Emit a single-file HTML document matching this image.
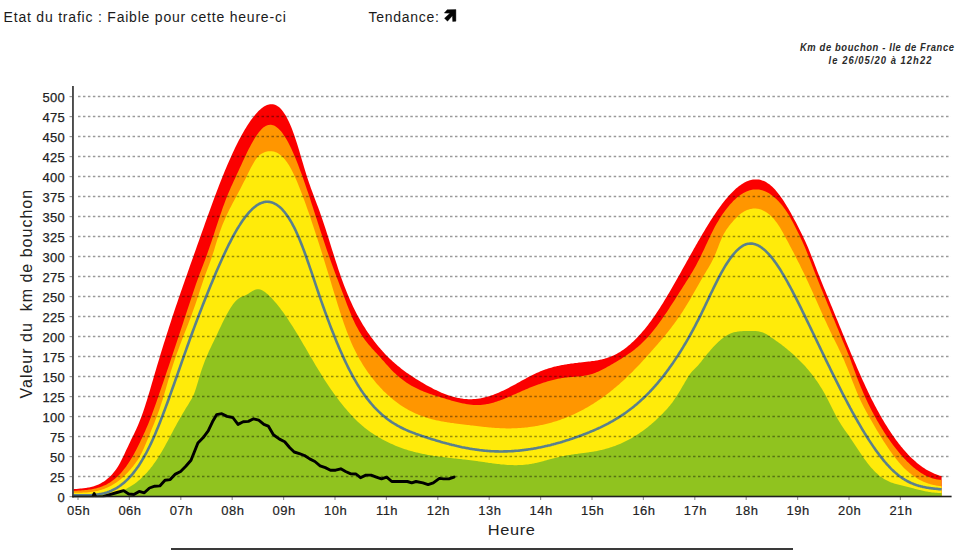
<!DOCTYPE html>
<html><head><meta charset="utf-8"><title>Etat du trafic</title>
<style>
html,body{margin:0;padding:0;background:#fff;}
body{width:977px;height:550px;overflow:hidden;position:relative;font-family:"Liberation Sans",sans-serif;}
svg{position:absolute;left:0;top:0;}
svg text{font-family:"Liberation Sans",sans-serif;}
.hd{font-size:14px;fill:#1a1a1a;letter-spacing:0.79px;}
.hd2{font-size:14px;fill:#1a1a1a;letter-spacing:0.7px;}
.yl text{font-size:13px;text-anchor:end;fill:#222;stroke:#222;stroke-width:0.25px;letter-spacing:0.35px;}
.xl text{font-size:13px;text-anchor:middle;fill:#222;stroke:#222;stroke-width:0.18px;letter-spacing:0.5px;}
.ax{font-size:15.3px;fill:#222;letter-spacing:0.6px;}
.ay{font-size:16px;fill:#222;letter-spacing:1px;}
.ti{font-size:9.4px;font-style:italic;font-weight:bold;fill:#2a2a2a;text-anchor:middle;letter-spacing:0.62px;}
</style></head><body>
<svg width="977" height="550" viewBox="0 0 977 550">
<rect width="977" height="550" fill="#fff"/>
<text class="hd" x="3.6" y="21.5">Etat du trafic : Faible pour cette heure-ci</text>
<text class="hd2" x="368.6" y="21.5">Tendance:</text>
<path d="M444.3,13.0 L447.2,9.7 L455.9,9.6 L455.9,21.2 L452.7,21.5 L452.4,15.7 L447.5,21.2 L444.5,18.3 L449.9,13.2 Z" fill="#050505" stroke="#050505" stroke-width="0.4" stroke-linejoin="round"/>
<g class="ti"><text transform="translate(877.3,51.4) scale(1,1.17)">Km de bouchon - Ile de France</text><text transform="translate(880.5,63.5) scale(1,1.17)" style="letter-spacing:1.04px">le 26/05/20 à 12h22</text></g>
<defs><clipPath id="cp"><rect x="73" y="80" width="880" height="417.3"/></clipPath></defs>
<g id="areas">
<path fill="#fb0000" d="M73.0,489.2 L74.0,489.1 L75.0,489.0 L76.0,489.0 L77.0,488.9 L78.0,488.8 L79.0,488.7 L80.0,488.6 L81.0,488.5 L82.0,488.4 L83.0,488.3 L84.0,488.2 L85.0,488.1 L86.0,488.0 L87.0,487.8 L88.0,487.6 L89.0,487.4 L90.0,487.2 L91.0,487.0 L92.0,486.8 L93.0,486.5 L94.0,486.2 L95.0,485.8 L96.0,485.5 L97.0,485.1 L98.0,484.7 L99.0,484.2 L100.0,483.7 L101.0,483.2 L102.0,482.6 L103.0,482.0 L104.0,481.4 L105.0,480.7 L106.0,479.9 L107.0,479.1 L108.0,478.3 L109.0,477.4 L110.0,476.5 L111.0,475.5 L112.0,474.4 L113.0,473.3 L114.0,472.1 L115.0,470.8 L116.0,469.4 L117.0,468.0 L118.0,466.4 L119.0,464.7 L120.0,462.9 L121.0,461.0 L122.0,459.0 L123.0,457.0 L124.0,454.9 L125.0,452.8 L126.0,450.6 L127.0,448.5 L128.0,446.4 L129.0,444.3 L130.0,442.2 L131.0,440.1 L132.0,438.1 L133.0,436.0 L134.0,434.0 L135.0,431.8 L136.0,429.7 L137.0,427.5 L138.0,425.2 L139.0,422.8 L140.0,420.3 L141.0,417.7 L142.0,415.0 L143.0,412.2 L144.0,409.3 L145.0,406.2 L146.0,403.1 L147.0,399.9 L148.0,396.6 L149.0,393.3 L150.0,389.9 L151.0,386.5 L152.0,383.1 L153.0,379.7 L154.0,376.2 L155.0,372.8 L156.0,369.4 L157.0,366.1 L158.0,362.7 L159.0,359.4 L160.0,356.1 L161.0,352.8 L162.0,349.5 L163.0,346.3 L164.0,343.1 L165.0,339.9 L166.0,336.7 L167.0,333.6 L168.0,330.4 L169.0,327.3 L170.0,324.2 L171.0,321.2 L172.0,318.1 L173.0,315.1 L174.0,312.1 L175.0,309.1 L176.0,306.1 L177.0,303.2 L178.0,300.3 L179.0,297.3 L180.0,294.4 L181.0,291.5 L182.0,288.7 L183.0,285.8 L184.0,282.9 L185.0,280.1 L186.0,277.2 L187.0,274.4 L188.0,271.5 L189.0,268.7 L190.0,265.8 L191.0,263.0 L192.0,260.2 L193.0,257.4 L194.0,254.5 L195.0,251.7 L196.0,248.9 L197.0,246.1 L198.0,243.3 L199.0,240.5 L200.0,237.6 L201.0,234.8 L202.0,232.0 L203.0,229.2 L204.0,226.4 L205.0,223.6 L206.0,220.8 L207.0,218.0 L208.0,215.2 L209.0,212.5 L210.0,209.7 L211.0,207.0 L212.0,204.2 L213.0,201.5 L214.0,198.8 L215.0,196.1 L216.0,193.5 L217.0,190.8 L218.0,188.2 L219.0,185.6 L220.0,183.0 L221.0,180.5 L222.0,178.0 L223.0,175.5 L224.0,173.0 L225.0,170.6 L226.0,168.2 L227.0,165.8 L228.0,163.5 L229.0,161.2 L230.0,158.9 L231.0,156.7 L232.0,154.5 L233.0,152.3 L234.0,150.2 L235.0,148.1 L236.0,146.0 L237.0,144.0 L238.0,142.0 L239.0,140.1 L240.0,138.2 L241.0,136.3 L242.0,134.5 L243.0,132.8 L244.0,131.0 L245.0,129.3 L246.0,127.7 L247.0,126.1 L248.0,124.5 L249.0,123.0 L250.0,121.5 L251.0,120.1 L252.0,118.8 L253.0,117.4 L254.0,116.2 L255.0,114.9 L256.0,113.8 L257.0,112.7 L258.0,111.6 L259.0,110.6 L260.0,109.7 L261.0,108.8 L262.0,108.0 L263.0,107.3 L264.0,106.6 L265.0,106.0 L266.0,105.5 L267.0,105.1 L268.0,104.7 L269.0,104.5 L270.0,104.3 L271.0,104.2 L272.0,104.2 L273.0,104.3 L274.0,104.5 L275.0,104.8 L276.0,105.2 L277.0,105.7 L278.0,106.4 L279.0,107.1 L280.0,108.0 L281.0,109.0 L282.0,110.2 L283.0,111.5 L284.0,112.9 L285.0,114.4 L286.0,116.1 L287.0,117.9 L288.0,119.9 L289.0,122.0 L290.0,124.2 L291.0,126.6 L292.0,129.1 L293.0,131.7 L294.0,134.5 L295.0,137.4 L296.0,140.4 L297.0,143.6 L298.0,146.8 L299.0,150.1 L300.0,153.5 L301.0,156.8 L302.0,160.2 L303.0,163.6 L304.0,167.0 L305.0,170.3 L306.0,173.5 L307.0,176.7 L308.0,179.7 L309.0,182.7 L310.0,185.6 L311.0,188.4 L312.0,191.1 L313.0,193.8 L314.0,196.5 L315.0,199.2 L316.0,201.8 L317.0,204.5 L318.0,207.1 L319.0,209.8 L320.0,212.6 L321.0,215.4 L322.0,218.3 L323.0,221.2 L324.0,224.2 L325.0,227.2 L326.0,230.3 L327.0,233.4 L328.0,236.6 L329.0,239.8 L330.0,243.0 L331.0,246.2 L332.0,249.4 L333.0,252.5 L334.0,255.7 L335.0,258.9 L336.0,262.0 L337.0,265.1 L338.0,268.2 L339.0,271.2 L340.0,274.1 L341.0,277.0 L342.0,279.8 L343.0,282.5 L344.0,285.2 L345.0,287.8 L346.0,290.3 L347.0,292.8 L348.0,295.2 L349.0,297.6 L350.0,299.9 L351.0,302.1 L352.0,304.3 L353.0,306.4 L354.0,308.5 L355.0,310.5 L356.0,312.5 L357.0,314.4 L358.0,316.2 L359.0,318.1 L360.0,319.8 L361.0,321.6 L362.0,323.3 L363.0,324.9 L364.0,326.6 L365.0,328.1 L366.0,329.7 L367.0,331.2 L368.0,332.7 L369.0,334.1 L370.0,335.5 L371.0,336.9 L372.0,338.3 L373.0,339.6 L374.0,341.0 L375.0,342.3 L376.0,343.5 L377.0,344.8 L378.0,346.0 L379.0,347.2 L380.0,348.3 L381.0,349.5 L382.0,350.6 L383.0,351.7 L384.0,352.8 L385.0,353.9 L386.0,354.9 L387.0,355.9 L388.0,356.9 L389.0,357.9 L390.0,358.9 L391.0,359.8 L392.0,360.8 L393.0,361.7 L394.0,362.6 L395.0,363.4 L396.0,364.3 L397.0,365.2 L398.0,366.0 L399.0,366.8 L400.0,367.6 L401.0,368.4 L402.0,369.2 L403.0,369.9 L404.0,370.7 L405.0,371.4 L406.0,372.2 L407.0,372.9 L408.0,373.6 L409.0,374.3 L410.0,375.0 L411.0,375.6 L412.0,376.3 L413.0,377.0 L414.0,377.6 L415.0,378.2 L416.0,378.9 L417.0,379.5 L418.0,380.1 L419.0,380.7 L420.0,381.3 L421.0,382.0 L422.0,382.5 L423.0,383.1 L424.0,383.7 L425.0,384.3 L426.0,384.9 L427.0,385.4 L428.0,386.0 L429.0,386.5 L430.0,387.1 L431.0,387.6 L432.0,388.1 L433.0,388.7 L434.0,389.2 L435.0,389.7 L436.0,390.1 L437.0,390.6 L438.0,391.1 L439.0,391.6 L440.0,392.0 L441.0,392.4 L442.0,392.9 L443.0,393.3 L444.0,393.7 L445.0,394.1 L446.0,394.4 L447.0,394.8 L448.0,395.2 L449.0,395.5 L450.0,395.8 L451.0,396.1 L452.0,396.4 L453.0,396.7 L454.0,397.0 L455.0,397.3 L456.0,397.5 L457.0,397.7 L458.0,397.9 L459.0,398.1 L460.0,398.3 L461.0,398.5 L462.0,398.6 L463.0,398.8 L464.0,398.9 L465.0,399.0 L466.0,399.1 L467.0,399.1 L468.0,399.2 L469.0,399.2 L470.0,399.2 L471.0,399.2 L472.0,399.2 L473.0,399.1 L474.0,399.1 L475.0,399.0 L476.0,398.9 L477.0,398.8 L478.0,398.7 L479.0,398.5 L480.0,398.4 L481.0,398.2 L482.0,398.0 L483.0,397.8 L484.0,397.6 L485.0,397.3 L486.0,397.1 L487.0,396.8 L488.0,396.5 L489.0,396.2 L490.0,395.9 L491.0,395.6 L492.0,395.2 L493.0,394.9 L494.0,394.5 L495.0,394.1 L496.0,393.7 L497.0,393.3 L498.0,392.9 L499.0,392.5 L500.0,392.1 L501.0,391.6 L502.0,391.1 L503.0,390.7 L504.0,390.2 L505.0,389.7 L506.0,389.2 L507.0,388.7 L508.0,388.2 L509.0,387.7 L510.0,387.1 L511.0,386.6 L512.0,386.1 L513.0,385.5 L514.0,385.0 L515.0,384.4 L516.0,383.9 L517.0,383.3 L518.0,382.8 L519.0,382.2 L520.0,381.7 L521.0,381.1 L522.0,380.6 L523.0,380.0 L524.0,379.5 L525.0,378.9 L526.0,378.4 L527.0,377.8 L528.0,377.3 L529.0,376.8 L530.0,376.3 L531.0,375.8 L532.0,375.3 L533.0,374.8 L534.0,374.3 L535.0,373.8 L536.0,373.3 L537.0,372.8 L538.0,372.4 L539.0,372.0 L540.0,371.5 L541.0,371.1 L542.0,370.7 L543.0,370.3 L544.0,369.9 L545.0,369.6 L546.0,369.2 L547.0,368.9 L548.0,368.6 L549.0,368.3 L550.0,368.0 L551.0,367.7 L552.0,367.4 L553.0,367.1 L554.0,366.8 L555.0,366.6 L556.0,366.4 L557.0,366.1 L558.0,365.9 L559.0,365.7 L560.0,365.5 L561.0,365.3 L562.0,365.1 L563.0,364.9 L564.0,364.7 L565.0,364.5 L566.0,364.4 L567.0,364.2 L568.0,364.1 L569.0,363.9 L570.0,363.8 L571.0,363.6 L572.0,363.5 L573.0,363.4 L574.0,363.2 L575.0,363.1 L576.0,363.0 L577.0,362.9 L578.0,362.7 L579.0,362.6 L580.0,362.5 L581.0,362.4 L582.0,362.3 L583.0,362.2 L584.0,362.1 L585.0,362.0 L586.0,361.8 L587.0,361.7 L588.0,361.6 L589.0,361.5 L590.0,361.4 L591.0,361.3 L592.0,361.1 L593.0,361.0 L594.0,360.9 L595.0,360.7 L596.0,360.6 L597.0,360.4 L598.0,360.2 L599.0,360.0 L600.0,359.8 L601.0,359.6 L602.0,359.4 L603.0,359.1 L604.0,358.9 L605.0,358.6 L606.0,358.3 L607.0,358.0 L608.0,357.6 L609.0,357.3 L610.0,356.9 L611.0,356.5 L612.0,356.1 L613.0,355.7 L614.0,355.2 L615.0,354.7 L616.0,354.2 L617.0,353.7 L618.0,353.1 L619.0,352.5 L620.0,351.9 L621.0,351.3 L622.0,350.6 L623.0,349.9 L624.0,349.2 L625.0,348.5 L626.0,347.7 L627.0,346.9 L628.0,346.1 L629.0,345.3 L630.0,344.4 L631.0,343.5 L632.0,342.6 L633.0,341.7 L634.0,340.8 L635.0,339.8 L636.0,338.8 L637.0,337.8 L638.0,336.7 L639.0,335.6 L640.0,334.5 L641.0,333.4 L642.0,332.3 L643.0,331.1 L644.0,329.9 L645.0,328.7 L646.0,327.5 L647.0,326.2 L648.0,324.9 L649.0,323.6 L650.0,322.3 L651.0,320.9 L652.0,319.5 L653.0,318.1 L654.0,316.7 L655.0,315.2 L656.0,313.8 L657.0,312.3 L658.0,310.8 L659.0,309.2 L660.0,307.7 L661.0,306.1 L662.0,304.5 L663.0,302.9 L664.0,301.3 L665.0,299.6 L666.0,298.0 L667.0,296.3 L668.0,294.6 L669.0,292.9 L670.0,291.2 L671.0,289.5 L672.0,287.8 L673.0,286.1 L674.0,284.3 L675.0,282.6 L676.0,280.8 L677.0,279.0 L678.0,277.3 L679.0,275.5 L680.0,273.7 L681.0,271.9 L682.0,270.1 L683.0,268.3 L684.0,266.5 L685.0,264.7 L686.0,262.9 L687.0,261.1 L688.0,259.4 L689.0,257.6 L690.0,255.8 L691.0,254.0 L692.0,252.2 L693.0,250.4 L694.0,248.6 L695.0,246.9 L696.0,245.1 L697.0,243.4 L698.0,241.6 L699.0,239.9 L700.0,238.2 L701.0,236.4 L702.0,234.7 L703.0,233.0 L704.0,231.4 L705.0,229.7 L706.0,228.1 L707.0,226.4 L708.0,224.8 L709.0,223.2 L710.0,221.6 L711.0,220.0 L712.0,218.5 L713.0,216.9 L714.0,215.4 L715.0,213.9 L716.0,212.5 L717.0,211.0 L718.0,209.6 L719.0,208.2 L720.0,206.8 L721.0,205.4 L722.0,204.1 L723.0,202.8 L724.0,201.5 L725.0,200.3 L726.0,199.1 L727.0,197.9 L728.0,196.7 L729.0,195.6 L730.0,194.5 L731.0,193.4 L732.0,192.4 L733.0,191.4 L734.0,190.4 L735.0,189.5 L736.0,188.6 L737.0,187.7 L738.0,186.9 L739.0,186.1 L740.0,185.4 L741.0,184.7 L742.0,184.0 L743.0,183.4 L744.0,182.8 L745.0,182.3 L746.0,181.8 L747.0,181.3 L748.0,180.9 L749.0,180.6 L750.0,180.3 L751.0,180.0 L752.0,179.8 L753.0,179.6 L754.0,179.5 L755.0,179.4 L756.0,179.4 L757.0,179.4 L758.0,179.5 L759.0,179.6 L760.0,179.8 L761.0,180.1 L762.0,180.4 L763.0,180.7 L764.0,181.1 L765.0,181.6 L766.0,182.1 L767.0,182.7 L768.0,183.4 L769.0,184.1 L770.0,184.8 L771.0,185.7 L772.0,186.6 L773.0,187.5 L774.0,188.5 L775.0,189.6 L776.0,190.7 L777.0,191.9 L778.0,193.2 L779.0,194.4 L780.0,195.8 L781.0,197.2 L782.0,198.6 L783.0,200.1 L784.0,201.6 L785.0,203.2 L786.0,204.8 L787.0,206.4 L788.0,208.1 L789.0,209.8 L790.0,211.6 L791.0,213.3 L792.0,215.2 L793.0,217.0 L794.0,218.9 L795.0,220.7 L796.0,222.6 L797.0,224.6 L798.0,226.5 L799.0,228.5 L800.0,230.5 L801.0,232.5 L802.0,234.5 L803.0,236.6 L804.0,238.7 L805.0,240.8 L806.0,243.0 L807.0,245.3 L808.0,247.6 L809.0,250.0 L810.0,252.5 L811.0,255.0 L812.0,257.5 L813.0,260.1 L814.0,262.6 L815.0,265.2 L816.0,267.8 L817.0,270.4 L818.0,272.9 L819.0,275.5 L820.0,278.0 L821.0,280.5 L822.0,283.0 L823.0,285.5 L824.0,287.9 L825.0,290.3 L826.0,292.7 L827.0,295.2 L828.0,297.6 L829.0,300.0 L830.0,302.4 L831.0,304.9 L832.0,307.3 L833.0,309.8 L834.0,312.3 L835.0,314.7 L836.0,317.2 L837.0,319.6 L838.0,322.1 L839.0,324.5 L840.0,326.9 L841.0,329.3 L842.0,331.8 L843.0,334.2 L844.0,336.6 L845.0,339.0 L846.0,341.4 L847.0,343.8 L848.0,346.2 L849.0,348.6 L850.0,351.0 L851.0,353.4 L852.0,355.7 L853.0,358.1 L854.0,360.4 L855.0,362.8 L856.0,365.1 L857.0,367.4 L858.0,369.7 L859.0,372.0 L860.0,374.3 L861.0,376.5 L862.0,378.7 L863.0,381.0 L864.0,383.1 L865.0,385.3 L866.0,387.5 L867.0,389.6 L868.0,391.7 L869.0,393.8 L870.0,395.8 L871.0,397.9 L872.0,399.9 L873.0,401.8 L874.0,403.8 L875.0,405.7 L876.0,407.6 L877.0,409.4 L878.0,411.3 L879.0,413.1 L880.0,414.9 L881.0,416.6 L882.0,418.4 L883.0,420.1 L884.0,421.8 L885.0,423.4 L886.0,425.0 L887.0,426.6 L888.0,428.2 L889.0,429.8 L890.0,431.3 L891.0,432.8 L892.0,434.3 L893.0,435.7 L894.0,437.1 L895.0,438.5 L896.0,439.9 L897.0,441.2 L898.0,442.6 L899.0,443.9 L900.0,445.1 L901.0,446.4 L902.0,447.6 L903.0,448.8 L904.0,449.9 L905.0,451.1 L906.0,452.2 L907.0,453.3 L908.0,454.4 L909.0,455.4 L910.0,456.4 L911.0,457.4 L912.0,458.4 L913.0,459.3 L914.0,460.2 L915.0,461.1 L916.0,462.0 L917.0,462.9 L918.0,463.7 L919.0,464.5 L920.0,465.2 L921.0,466.0 L922.0,466.7 L923.0,467.4 L924.0,468.1 L925.0,468.7 L926.0,469.4 L927.0,470.0 L928.0,470.5 L929.0,471.1 L930.0,471.6 L931.0,472.1 L932.0,472.6 L933.0,473.1 L934.0,473.5 L935.0,473.9 L936.0,474.3 L937.0,474.7 L938.0,475.0 L939.0,475.4 L940.0,475.7 L941.6,476.1 L941.6,496.6 L73.0,496.6 Z"/>
<path fill="#ff9600" d="M73.0,490.9 L74.0,490.9 L75.0,490.8 L76.0,490.7 L77.0,490.7 L78.0,490.6 L79.0,490.5 L80.0,490.5 L81.0,490.4 L82.0,490.3 L83.0,490.3 L84.0,490.2 L85.0,490.1 L86.0,490.0 L87.0,489.9 L88.0,489.8 L89.0,489.6 L90.0,489.5 L91.0,489.4 L92.0,489.2 L93.0,489.0 L94.0,488.8 L95.0,488.6 L96.0,488.4 L97.0,488.1 L98.0,487.8 L99.0,487.5 L100.0,487.2 L101.0,486.8 L102.0,486.5 L103.0,486.1 L104.0,485.6 L105.0,485.2 L106.0,484.7 L107.0,484.2 L108.0,483.6 L109.0,483.0 L110.0,482.4 L111.0,481.7 L112.0,481.0 L113.0,480.3 L114.0,479.5 L115.0,478.7 L116.0,477.8 L117.0,476.9 L118.0,476.0 L119.0,475.0 L120.0,474.0 L121.0,472.9 L122.0,471.7 L123.0,470.5 L124.0,469.3 L125.0,468.0 L126.0,466.7 L127.0,465.3 L128.0,463.8 L129.0,462.3 L130.0,460.8 L131.0,459.1 L132.0,457.5 L133.0,455.7 L134.0,453.9 L135.0,452.1 L136.0,450.2 L137.0,448.3 L138.0,446.3 L139.0,444.3 L140.0,442.2 L141.0,440.1 L142.0,438.0 L143.0,435.8 L144.0,433.6 L145.0,431.4 L146.0,429.1 L147.0,426.8 L148.0,424.4 L149.0,422.0 L150.0,419.5 L151.0,416.9 L152.0,414.3 L153.0,411.6 L154.0,408.8 L155.0,406.0 L156.0,403.2 L157.0,400.3 L158.0,397.4 L159.0,394.5 L160.0,391.6 L161.0,388.7 L162.0,385.8 L163.0,382.9 L164.0,380.0 L165.0,377.0 L166.0,374.1 L167.0,371.1 L168.0,368.2 L169.0,365.2 L170.0,362.2 L171.0,359.2 L172.0,356.2 L173.0,353.2 L174.0,350.3 L175.0,347.3 L176.0,344.3 L177.0,341.2 L178.0,338.2 L179.0,335.2 L180.0,332.2 L181.0,329.2 L182.0,326.2 L183.0,323.2 L184.0,320.1 L185.0,317.1 L186.0,314.1 L187.0,311.1 L188.0,308.0 L189.0,305.0 L190.0,302.0 L191.0,299.0 L192.0,295.9 L193.0,292.9 L194.0,290.0 L195.0,287.0 L196.0,284.1 L197.0,281.3 L198.0,278.5 L199.0,275.7 L200.0,273.0 L201.0,270.4 L202.0,267.8 L203.0,265.2 L204.0,262.5 L205.0,259.9 L206.0,257.2 L207.0,254.4 L208.0,251.6 L209.0,248.8 L210.0,245.8 L211.0,242.9 L212.0,239.9 L213.0,236.9 L214.0,233.9 L215.0,230.8 L216.0,227.8 L217.0,224.8 L218.0,221.7 L219.0,218.7 L220.0,215.8 L221.0,212.9 L222.0,210.0 L223.0,207.1 L224.0,204.4 L225.0,201.7 L226.0,199.0 L227.0,196.5 L228.0,194.1 L229.0,191.7 L230.0,189.4 L231.0,187.1 L232.0,184.9 L233.0,182.7 L234.0,180.5 L235.0,178.4 L236.0,176.2 L237.0,174.1 L238.0,171.9 L239.0,169.7 L240.0,167.6 L241.0,165.4 L242.0,163.2 L243.0,161.1 L244.0,158.9 L245.0,156.8 L246.0,154.7 L247.0,152.6 L248.0,150.6 L249.0,148.6 L250.0,146.7 L251.0,144.8 L252.0,143.0 L253.0,141.2 L254.0,139.5 L255.0,137.8 L256.0,136.3 L257.0,134.8 L258.0,133.4 L259.0,132.1 L260.0,130.9 L261.0,129.7 L262.0,128.7 L263.0,127.8 L264.0,127.0 L265.0,126.4 L266.0,125.8 L267.0,125.4 L268.0,125.1 L269.0,124.9 L270.0,124.8 L271.0,124.8 L272.0,125.0 L273.0,125.2 L274.0,125.6 L275.0,126.1 L276.0,126.7 L277.0,127.4 L278.0,128.2 L279.0,129.2 L280.0,130.2 L281.0,131.3 L282.0,132.6 L283.0,133.9 L284.0,135.4 L285.0,136.9 L286.0,138.6 L287.0,140.3 L288.0,142.1 L289.0,144.0 L290.0,146.0 L291.0,148.1 L292.0,150.3 L293.0,152.5 L294.0,154.8 L295.0,157.1 L296.0,159.6 L297.0,162.1 L298.0,164.6 L299.0,167.2 L300.0,169.9 L301.0,172.6 L302.0,175.3 L303.0,178.1 L304.0,181.0 L305.0,183.8 L306.0,186.7 L307.0,189.7 L308.0,192.6 L309.0,195.6 L310.0,198.6 L311.0,201.7 L312.0,204.7 L313.0,207.8 L314.0,210.9 L315.0,213.9 L316.0,217.0 L317.0,220.1 L318.0,223.2 L319.0,226.3 L320.0,229.4 L321.0,232.4 L322.0,235.5 L323.0,238.5 L324.0,241.5 L325.0,244.5 L326.0,247.4 L327.0,250.4 L328.0,253.3 L329.0,256.1 L330.0,259.0 L331.0,261.8 L332.0,264.5 L333.0,267.3 L334.0,270.0 L335.0,272.7 L336.0,275.3 L337.0,278.0 L338.0,280.6 L339.0,283.3 L340.0,285.9 L341.0,288.5 L342.0,291.2 L343.0,293.8 L344.0,296.5 L345.0,299.1 L346.0,301.8 L347.0,304.4 L348.0,307.0 L349.0,309.6 L350.0,312.1 L351.0,314.6 L352.0,316.9 L353.0,319.2 L354.0,321.3 L355.0,323.4 L356.0,325.4 L357.0,327.3 L358.0,329.1 L359.0,330.9 L360.0,332.6 L361.0,334.2 L362.0,335.7 L363.0,337.2 L364.0,338.6 L365.0,339.9 L366.0,341.3 L367.0,342.5 L368.0,343.8 L369.0,345.0 L370.0,346.1 L371.0,347.3 L372.0,348.4 L373.0,349.5 L374.0,350.6 L375.0,351.7 L376.0,352.7 L377.0,353.8 L378.0,354.9 L379.0,356.0 L380.0,357.1 L381.0,358.2 L382.0,359.4 L383.0,360.5 L384.0,361.6 L385.0,362.8 L386.0,363.9 L387.0,365.0 L388.0,366.1 L389.0,367.2 L390.0,368.3 L391.0,369.4 L392.0,370.4 L393.0,371.4 L394.0,372.4 L395.0,373.3 L396.0,374.3 L397.0,375.2 L398.0,376.1 L399.0,376.9 L400.0,377.7 L401.0,378.5 L402.0,379.3 L403.0,380.1 L404.0,380.8 L405.0,381.5 L406.0,382.2 L407.0,382.9 L408.0,383.5 L409.0,384.2 L410.0,384.8 L411.0,385.4 L412.0,385.9 L413.0,386.5 L414.0,387.0 L415.0,387.6 L416.0,388.1 L417.0,388.6 L418.0,389.1 L419.0,389.5 L420.0,390.0 L421.0,390.4 L422.0,390.8 L423.0,391.3 L424.0,391.7 L425.0,392.1 L426.0,392.5 L427.0,392.8 L428.0,393.2 L429.0,393.6 L430.0,393.9 L431.0,394.2 L432.0,394.6 L433.0,394.9 L434.0,395.2 L435.0,395.6 L436.0,395.9 L437.0,396.2 L438.0,396.5 L439.0,396.8 L440.0,397.1 L441.0,397.4 L442.0,397.7 L443.0,398.0 L444.0,398.3 L445.0,398.6 L446.0,398.9 L447.0,399.2 L448.0,399.5 L449.0,399.8 L450.0,400.1 L451.0,400.4 L452.0,400.7 L453.0,400.9 L454.0,401.2 L455.0,401.5 L456.0,401.8 L457.0,402.0 L458.0,402.3 L459.0,402.5 L460.0,402.8 L461.0,403.0 L462.0,403.2 L463.0,403.4 L464.0,403.6 L465.0,403.8 L466.0,404.0 L467.0,404.2 L468.0,404.3 L469.0,404.5 L470.0,404.6 L471.0,404.7 L472.0,404.8 L473.0,404.9 L474.0,405.0 L475.0,405.0 L476.0,405.0 L477.0,405.1 L478.0,405.1 L479.0,405.0 L480.0,405.0 L481.0,404.9 L482.0,404.8 L483.0,404.7 L484.0,404.6 L485.0,404.5 L486.0,404.3 L487.0,404.1 L488.0,403.9 L489.0,403.7 L490.0,403.5 L491.0,403.3 L492.0,403.0 L493.0,402.7 L494.0,402.4 L495.0,402.1 L496.0,401.8 L497.0,401.5 L498.0,401.1 L499.0,400.8 L500.0,400.4 L501.0,400.1 L502.0,399.7 L503.0,399.3 L504.0,398.9 L505.0,398.5 L506.0,398.1 L507.0,397.7 L508.0,397.2 L509.0,396.8 L510.0,396.4 L511.0,395.9 L512.0,395.5 L513.0,395.1 L514.0,394.6 L515.0,394.2 L516.0,393.7 L517.0,393.3 L518.0,392.8 L519.0,392.4 L520.0,391.9 L521.0,391.5 L522.0,391.0 L523.0,390.6 L524.0,390.2 L525.0,389.7 L526.0,389.3 L527.0,388.9 L528.0,388.5 L529.0,388.1 L530.0,387.6 L531.0,387.2 L532.0,386.8 L533.0,386.5 L534.0,386.1 L535.0,385.7 L536.0,385.3 L537.0,384.9 L538.0,384.6 L539.0,384.2 L540.0,383.9 L541.0,383.5 L542.0,383.2 L543.0,382.8 L544.0,382.5 L545.0,382.2 L546.0,381.9 L547.0,381.6 L548.0,381.3 L549.0,381.0 L550.0,380.7 L551.0,380.5 L552.0,380.2 L553.0,379.9 L554.0,379.7 L555.0,379.5 L556.0,379.2 L557.0,379.0 L558.0,378.8 L559.0,378.6 L560.0,378.4 L561.0,378.2 L562.0,378.1 L563.0,377.9 L564.0,377.8 L565.0,377.6 L566.0,377.5 L567.0,377.4 L568.0,377.3 L569.0,377.2 L570.0,377.1 L571.0,377.0 L572.0,376.9 L573.0,376.9 L574.0,376.8 L575.0,376.7 L576.0,376.6 L577.0,376.6 L578.0,376.5 L579.0,376.4 L580.0,376.3 L581.0,376.2 L582.0,376.1 L583.0,375.9 L584.0,375.8 L585.0,375.6 L586.0,375.5 L587.0,375.3 L588.0,375.1 L589.0,374.8 L590.0,374.6 L591.0,374.3 L592.0,374.0 L593.0,373.7 L594.0,373.3 L595.0,372.9 L596.0,372.5 L597.0,372.1 L598.0,371.7 L599.0,371.2 L600.0,370.8 L601.0,370.3 L602.0,369.8 L603.0,369.3 L604.0,368.8 L605.0,368.2 L606.0,367.7 L607.0,367.1 L608.0,366.6 L609.0,366.0 L610.0,365.4 L611.0,364.8 L612.0,364.2 L613.0,363.7 L614.0,363.1 L615.0,362.5 L616.0,361.9 L617.0,361.3 L618.0,360.7 L619.0,360.1 L620.0,359.5 L621.0,358.9 L622.0,358.3 L623.0,357.6 L624.0,357.0 L625.0,356.3 L626.0,355.7 L627.0,355.0 L628.0,354.3 L629.0,353.6 L630.0,352.9 L631.0,352.2 L632.0,351.5 L633.0,350.7 L634.0,349.9 L635.0,349.2 L636.0,348.3 L637.0,347.5 L638.0,346.7 L639.0,345.8 L640.0,344.9 L641.0,344.0 L642.0,343.1 L643.0,342.1 L644.0,341.1 L645.0,340.1 L646.0,339.1 L647.0,338.0 L648.0,336.9 L649.0,335.8 L650.0,334.7 L651.0,333.5 L652.0,332.3 L653.0,331.0 L654.0,329.8 L655.0,328.5 L656.0,327.2 L657.0,325.9 L658.0,324.5 L659.0,323.2 L660.0,321.8 L661.0,320.4 L662.0,319.0 L663.0,317.5 L664.0,316.1 L665.0,314.6 L666.0,313.2 L667.0,311.7 L668.0,310.2 L669.0,308.7 L670.0,307.1 L671.0,305.6 L672.0,304.1 L673.0,302.5 L674.0,301.0 L675.0,299.4 L676.0,297.8 L677.0,296.3 L678.0,294.7 L679.0,293.1 L680.0,291.5 L681.0,290.0 L682.0,288.4 L683.0,286.8 L684.0,285.3 L685.0,283.7 L686.0,282.1 L687.0,280.5 L688.0,278.9 L689.0,277.3 L690.0,275.7 L691.0,274.1 L692.0,272.4 L693.0,270.7 L694.0,268.9 L695.0,267.2 L696.0,265.4 L697.0,263.5 L698.0,261.6 L699.0,259.7 L700.0,257.7 L701.0,255.7 L702.0,253.6 L703.0,251.5 L704.0,249.4 L705.0,247.2 L706.0,245.1 L707.0,242.9 L708.0,240.8 L709.0,238.7 L710.0,236.6 L711.0,234.5 L712.0,232.4 L713.0,230.5 L714.0,228.5 L715.0,226.6 L716.0,224.8 L717.0,223.1 L718.0,221.4 L719.0,219.7 L720.0,218.1 L721.0,216.6 L722.0,215.1 L723.0,213.6 L724.0,212.2 L725.0,210.8 L726.0,209.5 L727.0,208.2 L728.0,207.0 L729.0,205.7 L730.0,204.6 L731.0,203.5 L732.0,202.4 L733.0,201.3 L734.0,200.3 L735.0,199.4 L736.0,198.5 L737.0,197.6 L738.0,196.8 L739.0,196.0 L740.0,195.2 L741.0,194.5 L742.0,193.9 L743.0,193.3 L744.0,192.7 L745.0,192.2 L746.0,191.7 L747.0,191.3 L748.0,190.9 L749.0,190.6 L750.0,190.3 L751.0,190.0 L752.0,189.8 L753.0,189.6 L754.0,189.5 L755.0,189.5 L756.0,189.4 L757.0,189.5 L758.0,189.5 L759.0,189.6 L760.0,189.8 L761.0,190.0 L762.0,190.3 L763.0,190.6 L764.0,190.9 L765.0,191.3 L766.0,191.7 L767.0,192.2 L768.0,192.8 L769.0,193.3 L770.0,194.0 L771.0,194.7 L772.0,195.4 L773.0,196.2 L774.0,197.0 L775.0,197.9 L776.0,198.8 L777.0,199.8 L778.0,200.8 L779.0,201.8 L780.0,203.0 L781.0,204.1 L782.0,205.3 L783.0,206.6 L784.0,207.9 L785.0,209.3 L786.0,210.7 L787.0,212.2 L788.0,213.7 L789.0,215.2 L790.0,217.0 L791.0,218.9 L792.0,220.7 L793.0,222.6 L794.0,224.6 L795.0,226.5 L796.0,228.5 L797.0,230.5 L798.0,232.5 L799.0,234.5 L800.0,236.6 L801.0,238.7 L802.0,240.8 L803.0,243.0 L804.0,245.3 L805.0,247.6 L806.0,250.0 L807.0,252.5 L808.0,255.0 L809.0,257.5 L810.0,260.1 L811.0,262.6 L812.0,265.2 L813.0,267.8 L814.0,270.4 L815.0,272.9 L816.0,275.5 L817.0,278.0 L818.0,280.5 L819.0,283.0 L820.0,285.5 L821.0,287.9 L822.0,290.3 L823.0,292.7 L824.0,295.2 L825.0,297.6 L826.0,300.0 L827.0,302.4 L828.0,304.9 L829.0,307.3 L830.0,309.8 L831.0,312.3 L832.0,314.7 L833.0,317.2 L834.0,319.6 L835.0,322.1 L836.0,324.5 L837.0,326.9 L838.0,329.3 L839.0,331.8 L840.0,334.2 L841.0,336.6 L842.0,339.0 L843.0,341.4 L844.0,343.8 L845.0,346.2 L846.0,348.6 L847.0,351.0 L848.0,353.4 L849.0,355.7 L850.0,358.3 L851.0,361.1 L852.0,363.9 L853.0,366.6 L854.0,369.4 L855.0,372.1 L856.0,374.8 L857.0,377.4 L858.0,380.0 L859.0,382.5 L860.0,385.0 L861.0,387.4 L862.0,389.8 L863.0,392.2 L864.0,394.4 L865.0,396.7 L866.0,398.9 L867.0,401.0 L868.0,403.2 L869.0,405.2 L870.0,407.2 L871.0,409.2 L872.0,411.2 L873.0,413.1 L874.0,415.0 L875.0,416.8 L876.0,418.6 L877.0,420.4 L878.0,422.1 L879.0,423.8 L880.0,425.5 L881.0,427.1 L882.0,428.8 L883.0,430.3 L884.0,431.9 L885.0,433.4 L886.0,435.0 L887.0,436.4 L888.0,437.9 L889.0,439.3 L890.0,440.8 L891.0,442.2 L892.0,443.5 L893.0,444.9 L894.0,446.2 L895.0,447.5 L896.0,448.8 L897.0,450.1 L898.0,451.3 L899.0,452.5 L900.0,453.7 L901.0,454.9 L902.0,456.0 L903.0,457.1 L904.0,458.2 L905.0,459.3 L906.0,460.3 L907.0,461.4 L908.0,462.3 L909.0,463.3 L910.0,464.3 L911.0,465.2 L912.0,466.1 L913.0,466.9 L914.0,467.8 L915.0,468.6 L916.0,469.4 L917.0,470.1 L918.0,470.8 L919.0,471.5 L920.0,472.2 L921.0,472.9 L922.0,473.5 L923.0,474.1 L924.0,474.7 L925.0,475.2 L926.0,475.7 L927.0,476.2 L928.0,476.6 L929.0,477.1 L930.0,477.5 L931.0,477.8 L932.0,478.2 L933.0,478.5 L934.0,478.8 L935.0,479.0 L936.0,479.2 L937.0,479.4 L938.0,479.6 L939.0,479.7 L940.0,479.8 L941.6,479.9 L941.6,496.6 L73.0,496.6 Z"/>
<path fill="#ffeb0a" d="M73.0,492.7 L74.0,492.7 L75.0,492.7 L76.0,492.7 L77.0,492.7 L78.0,492.7 L79.0,492.7 L80.0,492.7 L81.0,492.7 L82.0,492.7 L83.0,492.6 L84.0,492.6 L85.0,492.5 L86.0,492.5 L87.0,492.4 L88.0,492.3 L89.0,492.2 L90.0,492.1 L91.0,492.0 L92.0,491.8 L93.0,491.7 L94.0,491.5 L95.0,491.3 L96.0,491.1 L97.0,490.9 L98.0,490.7 L99.0,490.4 L100.0,490.1 L101.0,489.9 L102.0,489.5 L103.0,489.2 L104.0,488.9 L105.0,488.5 L106.0,488.1 L107.0,487.7 L108.0,487.2 L109.0,486.7 L110.0,486.2 L111.0,485.7 L112.0,485.2 L113.0,484.6 L114.0,484.0 L115.0,483.3 L116.0,482.7 L117.0,482.0 L118.0,481.3 L119.0,480.5 L120.0,479.7 L121.0,478.9 L122.0,478.1 L123.0,477.2 L124.0,476.3 L125.0,475.3 L126.0,474.3 L127.0,473.3 L128.0,472.2 L129.0,471.1 L130.0,470.0 L131.0,468.8 L132.0,467.6 L133.0,466.4 L134.0,465.1 L135.0,463.7 L136.0,462.3 L137.0,460.9 L138.0,459.4 L139.0,457.8 L140.0,456.1 L141.0,454.2 L142.0,452.2 L143.0,450.1 L144.0,447.9 L145.0,445.6 L146.0,443.2 L147.0,440.8 L148.0,438.4 L149.0,435.9 L150.0,433.5 L151.0,431.1 L152.0,428.6 L153.0,426.2 L154.0,423.7 L155.0,421.2 L156.0,418.6 L157.0,416.0 L158.0,413.2 L159.0,410.5 L160.0,407.6 L161.0,404.6 L162.0,401.5 L163.0,398.4 L164.0,395.0 L165.0,391.6 L166.0,388.2 L167.0,384.7 L168.0,381.2 L169.0,377.7 L170.0,374.3 L171.0,371.1 L172.0,367.9 L173.0,364.8 L174.0,361.7 L175.0,358.8 L176.0,355.9 L177.0,353.1 L178.0,350.4 L179.0,347.7 L180.0,345.0 L181.0,342.4 L182.0,339.8 L183.0,337.2 L184.0,334.6 L185.0,332.1 L186.0,329.5 L187.0,327.0 L188.0,324.4 L189.0,321.8 L190.0,319.2 L191.0,316.5 L192.0,313.8 L193.0,311.1 L194.0,308.3 L195.0,305.5 L196.0,302.5 L197.0,299.5 L198.0,296.5 L199.0,293.4 L200.0,290.3 L201.0,287.2 L202.0,284.2 L203.0,281.2 L204.0,278.3 L205.0,275.5 L206.0,272.8 L207.0,270.2 L208.0,267.6 L209.0,264.9 L210.0,262.3 L211.0,259.5 L212.0,256.6 L213.0,253.6 L214.0,250.4 L215.0,247.1 L216.0,243.8 L217.0,240.6 L218.0,237.4 L219.0,234.4 L220.0,231.5 L221.0,228.8 L222.0,226.1 L223.0,223.6 L224.0,221.2 L225.0,218.9 L226.0,216.6 L227.0,214.5 L228.0,212.4 L229.0,210.3 L230.0,208.3 L231.0,206.4 L232.0,204.5 L233.0,202.6 L234.0,200.7 L235.0,198.8 L236.0,197.0 L237.0,195.1 L238.0,193.2 L239.0,191.3 L240.0,189.4 L241.0,187.5 L242.0,185.6 L243.0,183.6 L244.0,181.6 L245.0,179.7 L246.0,177.7 L247.0,175.6 L248.0,173.6 L249.0,171.6 L250.0,169.6 L251.0,167.6 L252.0,165.8 L253.0,163.9 L254.0,162.2 L255.0,160.6 L256.0,159.1 L257.0,157.7 L258.0,156.6 L259.0,155.5 L260.0,154.7 L261.0,154.0 L262.0,153.4 L263.0,152.9 L264.0,152.4 L265.0,152.1 L266.0,151.8 L267.0,151.5 L268.0,151.3 L269.0,151.2 L270.0,151.2 L271.0,151.2 L272.0,151.3 L273.0,151.4 L274.0,151.6 L275.0,151.9 L276.0,152.3 L277.0,152.8 L278.0,153.3 L279.0,153.9 L280.0,154.7 L281.0,155.5 L282.0,156.3 L283.0,157.3 L284.0,158.4 L285.0,159.6 L286.0,160.9 L287.0,162.2 L288.0,163.7 L289.0,165.3 L290.0,167.0 L291.0,168.8 L292.0,170.7 L293.0,172.7 L294.0,174.8 L295.0,177.0 L296.0,179.2 L297.0,181.6 L298.0,184.0 L299.0,186.4 L300.0,189.0 L301.0,191.6 L302.0,194.2 L303.0,196.9 L304.0,199.6 L305.0,202.3 L306.0,205.1 L307.0,207.9 L308.0,210.7 L309.0,213.6 L310.0,216.5 L311.0,219.5 L312.0,222.4 L313.0,225.4 L314.0,228.4 L315.0,231.4 L316.0,234.5 L317.0,237.6 L318.0,240.7 L319.0,243.8 L320.0,247.0 L321.0,250.1 L322.0,253.3 L323.0,256.5 L324.0,259.7 L325.0,263.0 L326.0,266.2 L327.0,269.5 L328.0,272.8 L329.0,276.0 L330.0,279.3 L331.0,282.6 L332.0,285.9 L333.0,289.2 L334.0,292.5 L335.0,295.8 L336.0,299.0 L337.0,302.3 L338.0,305.4 L339.0,308.6 L340.0,311.7 L341.0,314.8 L342.0,317.8 L343.0,320.8 L344.0,323.7 L345.0,326.5 L346.0,329.3 L347.0,332.0 L348.0,334.6 L349.0,337.1 L350.0,339.6 L351.0,341.9 L352.0,344.2 L353.0,346.4 L354.0,348.5 L355.0,350.6 L356.0,352.6 L357.0,354.5 L358.0,356.4 L359.0,358.2 L360.0,359.9 L361.0,361.6 L362.0,363.3 L363.0,364.9 L364.0,366.5 L365.0,368.0 L366.0,369.5 L367.0,371.0 L368.0,372.4 L369.0,373.8 L370.0,375.1 L371.0,376.5 L372.0,377.8 L373.0,379.1 L374.0,380.3 L375.0,381.5 L376.0,382.7 L377.0,383.9 L378.0,385.0 L379.0,386.1 L380.0,387.2 L381.0,388.3 L382.0,389.3 L383.0,390.4 L384.0,391.4 L385.0,392.3 L386.0,393.3 L387.0,394.2 L388.0,395.2 L389.0,396.1 L390.0,396.9 L391.0,397.8 L392.0,398.6 L393.0,399.5 L394.0,400.3 L395.0,401.0 L396.0,401.8 L397.0,402.6 L398.0,403.3 L399.0,404.0 L400.0,404.7 L401.0,405.4 L402.0,406.0 L403.0,406.7 L404.0,407.3 L405.0,407.9 L406.0,408.5 L407.0,409.1 L408.0,409.7 L409.0,410.2 L410.0,410.8 L411.0,411.3 L412.0,411.8 L413.0,412.3 L414.0,412.7 L415.0,413.2 L416.0,413.7 L417.0,414.1 L418.0,414.5 L419.0,414.9 L420.0,415.3 L421.0,415.7 L422.0,416.1 L423.0,416.4 L424.0,416.8 L425.0,417.1 L426.0,417.5 L427.0,417.8 L428.0,418.1 L429.0,418.4 L430.0,418.6 L431.0,418.9 L432.0,419.2 L433.0,419.4 L434.0,419.7 L435.0,419.9 L436.0,420.2 L437.0,420.4 L438.0,420.6 L439.0,420.8 L440.0,421.0 L441.0,421.2 L442.0,421.4 L443.0,421.6 L444.0,421.7 L445.0,421.9 L446.0,422.1 L447.0,422.2 L448.0,422.4 L449.0,422.6 L450.0,422.7 L451.0,422.9 L452.0,423.0 L453.0,423.1 L454.0,423.3 L455.0,423.4 L456.0,423.5 L457.0,423.7 L458.0,423.8 L459.0,423.9 L460.0,424.1 L461.0,424.2 L462.0,424.3 L463.0,424.4 L464.0,424.5 L465.0,424.7 L466.0,424.8 L467.0,424.9 L468.0,425.0 L469.0,425.1 L470.0,425.3 L471.0,425.4 L472.0,425.5 L473.0,425.6 L474.0,425.7 L475.0,425.8 L476.0,426.0 L477.0,426.1 L478.0,426.2 L479.0,426.3 L480.0,426.4 L481.0,426.5 L482.0,426.7 L483.0,426.8 L484.0,426.9 L485.0,427.0 L486.0,427.1 L487.0,427.2 L488.0,427.3 L489.0,427.4 L490.0,427.5 L491.0,427.6 L492.0,427.7 L493.0,427.7 L494.0,427.8 L495.0,427.9 L496.0,428.0 L497.0,428.0 L498.0,428.1 L499.0,428.1 L500.0,428.2 L501.0,428.2 L502.0,428.3 L503.0,428.3 L504.0,428.3 L505.0,428.3 L506.0,428.4 L507.0,428.4 L508.0,428.4 L509.0,428.4 L510.0,428.4 L511.0,428.4 L512.0,428.3 L513.0,428.3 L514.0,428.3 L515.0,428.3 L516.0,428.2 L517.0,428.2 L518.0,428.1 L519.0,428.1 L520.0,428.0 L521.0,427.9 L522.0,427.8 L523.0,427.8 L524.0,427.7 L525.0,427.6 L526.0,427.5 L527.0,427.4 L528.0,427.2 L529.0,427.1 L530.0,427.0 L531.0,426.8 L532.0,426.7 L533.0,426.6 L534.0,426.4 L535.0,426.2 L536.0,426.1 L537.0,425.9 L538.0,425.7 L539.0,425.5 L540.0,425.3 L541.0,425.1 L542.0,424.9 L543.0,424.7 L544.0,424.5 L545.0,424.2 L546.0,424.0 L547.0,423.7 L548.0,423.5 L549.0,423.2 L550.0,423.0 L551.0,422.7 L552.0,422.4 L553.0,422.1 L554.0,421.8 L555.0,421.5 L556.0,421.2 L557.0,420.9 L558.0,420.5 L559.0,420.2 L560.0,419.9 L561.0,419.5 L562.0,419.1 L563.0,418.8 L564.0,418.4 L565.0,418.0 L566.0,417.6 L567.0,417.2 L568.0,416.8 L569.0,416.4 L570.0,416.0 L571.0,415.5 L572.0,415.1 L573.0,414.7 L574.0,414.2 L575.0,413.7 L576.0,413.3 L577.0,412.8 L578.0,412.3 L579.0,411.8 L580.0,411.3 L581.0,410.8 L582.0,410.2 L583.0,409.7 L584.0,409.2 L585.0,408.6 L586.0,408.0 L587.0,407.5 L588.0,406.9 L589.0,406.3 L590.0,405.7 L591.0,405.1 L592.0,404.5 L593.0,403.9 L594.0,403.2 L595.0,402.6 L596.0,402.0 L597.0,401.3 L598.0,400.6 L599.0,399.9 L600.0,399.3 L601.0,398.6 L602.0,397.9 L603.0,397.1 L604.0,396.4 L605.0,395.7 L606.0,394.9 L607.0,394.2 L608.0,393.4 L609.0,392.7 L610.0,391.9 L611.0,391.1 L612.0,390.3 L613.0,389.5 L614.0,388.6 L615.0,387.8 L616.0,387.0 L617.0,386.1 L618.0,385.3 L619.0,384.4 L620.0,383.5 L621.0,382.6 L622.0,381.7 L623.0,380.8 L624.0,379.9 L625.0,378.9 L626.0,378.0 L627.0,377.1 L628.0,376.1 L629.0,375.1 L630.0,374.1 L631.0,373.2 L632.0,372.2 L633.0,371.2 L634.0,370.1 L635.0,369.1 L636.0,368.1 L637.0,367.0 L638.0,366.0 L639.0,364.9 L640.0,363.9 L641.0,362.8 L642.0,361.7 L643.0,360.6 L644.0,359.5 L645.0,358.4 L646.0,357.3 L647.0,356.2 L648.0,355.1 L649.0,354.0 L650.0,352.9 L651.0,351.7 L652.0,350.6 L653.0,349.5 L654.0,348.3 L655.0,347.2 L656.0,346.0 L657.0,344.9 L658.0,343.7 L659.0,342.6 L660.0,341.4 L661.0,340.2 L662.0,339.0 L663.0,337.9 L664.0,336.7 L665.0,335.4 L666.0,334.2 L667.0,333.0 L668.0,331.7 L669.0,330.5 L670.0,329.2 L671.0,327.9 L672.0,326.6 L673.0,325.3 L674.0,323.9 L675.0,322.6 L676.0,321.2 L677.0,319.8 L678.0,318.3 L679.0,316.9 L680.0,315.4 L681.0,314.0 L682.0,312.4 L683.0,310.9 L684.0,309.3 L685.0,307.8 L686.0,306.1 L687.0,304.5 L688.0,302.8 L689.0,301.2 L690.0,299.5 L691.0,297.7 L692.0,296.0 L693.0,294.3 L694.0,292.5 L695.0,290.7 L696.0,289.0 L697.0,287.2 L698.0,285.4 L699.0,283.7 L700.0,281.9 L701.0,280.2 L702.0,278.5 L703.0,276.7 L704.0,275.1 L705.0,273.4 L706.0,271.7 L707.0,270.1 L708.0,268.4 L709.0,266.7 L710.0,265.0 L711.0,263.2 L712.0,261.3 L713.0,259.3 L714.0,257.2 L715.0,255.0 L716.0,252.6 L717.0,250.0 L718.0,247.4 L719.0,244.8 L720.0,242.3 L721.0,239.9 L722.0,237.6 L723.0,235.5 L724.0,233.6 L725.0,231.9 L726.0,230.3 L727.0,228.8 L728.0,227.4 L729.0,226.0 L730.0,224.8 L731.0,223.6 L732.0,222.4 L733.0,221.2 L734.0,220.1 L735.0,219.0 L736.0,217.9 L737.0,216.9 L738.0,216.0 L739.0,215.1 L740.0,214.3 L741.0,213.5 L742.0,212.8 L743.0,212.2 L744.0,211.5 L745.0,211.0 L746.0,210.5 L747.0,210.1 L748.0,209.7 L749.0,209.4 L750.0,209.1 L751.0,208.9 L752.0,208.7 L753.0,208.6 L754.0,208.5 L755.0,208.5 L756.0,208.6 L757.0,208.7 L758.0,208.8 L759.0,209.0 L760.0,209.3 L761.0,209.6 L762.0,210.0 L763.0,210.4 L764.0,210.9 L765.0,211.4 L766.0,212.0 L767.0,212.7 L768.0,213.4 L769.0,214.2 L770.0,215.0 L771.0,215.9 L772.0,216.9 L773.0,218.0 L774.0,219.1 L775.0,220.4 L776.0,221.7 L777.0,223.0 L778.0,224.5 L779.0,226.0 L780.0,227.6 L781.0,229.3 L782.0,231.1 L783.0,232.8 L784.0,234.7 L785.0,236.5 L786.0,238.4 L787.0,240.2 L788.0,242.1 L789.0,244.0 L790.0,245.9 L791.0,247.8 L792.0,249.7 L793.0,251.6 L794.0,253.5 L795.0,255.5 L796.0,257.4 L797.0,259.4 L798.0,261.4 L799.0,263.3 L800.0,265.3 L801.0,267.4 L802.0,269.4 L803.0,271.5 L804.0,273.5 L805.0,275.6 L806.0,277.7 L807.0,279.9 L808.0,282.0 L809.0,284.2 L810.0,286.4 L811.0,288.6 L812.0,290.8 L813.0,293.0 L814.0,295.3 L815.0,297.5 L816.0,299.7 L817.0,302.0 L818.0,304.2 L819.0,306.5 L820.0,308.7 L821.0,311.0 L822.0,313.2 L823.0,315.5 L824.0,317.7 L825.0,319.9 L826.0,322.1 L827.0,324.3 L828.0,326.4 L829.0,328.6 L830.0,330.7 L831.0,332.8 L832.0,334.9 L833.0,336.9 L834.0,339.0 L835.0,341.0 L836.0,343.0 L837.0,345.1 L838.0,347.1 L839.0,349.2 L840.0,351.3 L841.0,353.4 L842.0,355.6 L843.0,357.8 L844.0,360.1 L845.0,362.5 L846.0,364.9 L847.0,367.3 L848.0,369.8 L849.0,372.3 L850.0,374.8 L851.0,377.4 L852.0,379.9 L853.0,382.5 L854.0,385.0 L855.0,387.5 L856.0,390.0 L857.0,392.4 L858.0,394.8 L859.0,397.1 L860.0,399.3 L861.0,401.4 L862.0,403.5 L863.0,405.5 L864.0,407.4 L865.0,409.3 L866.0,411.2 L867.0,413.0 L868.0,414.8 L869.0,416.6 L870.0,418.4 L871.0,420.1 L872.0,421.8 L873.0,423.6 L874.0,425.3 L875.0,427.0 L876.0,428.7 L877.0,430.4 L878.0,432.1 L879.0,433.7 L880.0,435.4 L881.0,437.0 L882.0,438.6 L883.0,440.2 L884.0,441.8 L885.0,443.3 L886.0,444.8 L887.0,446.3 L888.0,447.8 L889.0,449.3 L890.0,450.7 L891.0,452.1 L892.0,453.5 L893.0,454.9 L894.0,456.2 L895.0,457.5 L896.0,458.8 L897.0,460.1 L898.0,461.3 L899.0,462.5 L900.0,463.6 L901.0,464.7 L902.0,465.8 L903.0,466.9 L904.0,467.9 L905.0,468.9 L906.0,469.8 L907.0,470.7 L908.0,471.6 L909.0,472.5 L910.0,473.3 L911.0,474.1 L912.0,474.9 L913.0,475.6 L914.0,476.3 L915.0,477.0 L916.0,477.6 L917.0,478.3 L918.0,478.9 L919.0,479.4 L920.0,480.0 L921.0,480.5 L922.0,481.0 L923.0,481.4 L924.0,481.9 L925.0,482.3 L926.0,482.7 L927.0,483.1 L928.0,483.4 L929.0,483.8 L930.0,484.1 L931.0,484.4 L932.0,484.6 L933.0,484.9 L934.0,485.1 L935.0,485.3 L936.0,485.5 L937.0,485.7 L938.0,485.8 L939.0,486.0 L940.0,486.1 L941.6,486.2 L941.6,496.6 L73.0,496.6 Z"/>
<path fill="#90c31f" d="M73.0,494.5 L74.0,494.5 L75.0,494.5 L76.0,494.5 L77.0,494.5 L78.0,494.5 L79.0,494.6 L80.0,494.6 L81.0,494.6 L82.0,494.7 L83.0,494.7 L84.0,494.7 L85.0,494.8 L86.0,494.8 L87.0,494.8 L88.0,494.8 L89.0,494.9 L90.0,494.9 L91.0,494.9 L92.0,494.9 L93.0,494.9 L94.0,494.9 L95.0,494.9 L96.0,494.9 L97.0,494.9 L98.0,494.9 L99.0,494.9 L100.0,494.8 L101.0,494.8 L102.0,494.7 L103.0,494.7 L104.0,494.6 L105.0,494.5 L106.0,494.4 L107.0,494.3 L108.0,494.1 L109.0,494.0 L110.0,493.8 L111.0,493.7 L112.0,493.5 L113.0,493.3 L114.0,493.1 L115.0,492.8 L116.0,492.6 L117.0,492.3 L118.0,492.0 L119.0,491.7 L120.0,491.3 L121.0,491.0 L122.0,490.6 L123.0,490.2 L124.0,489.8 L125.0,489.3 L126.0,488.9 L127.0,488.4 L128.0,487.8 L129.0,487.3 L130.0,486.7 L131.0,486.1 L132.0,485.5 L133.0,484.8 L134.0,484.2 L135.0,483.5 L136.0,482.7 L137.0,481.9 L138.0,481.1 L139.0,480.3 L140.0,479.4 L141.0,478.5 L142.0,477.6 L143.0,476.6 L144.0,475.6 L145.0,474.6 L146.0,473.5 L147.0,472.4 L148.0,471.3 L149.0,470.1 L150.0,468.9 L151.0,467.6 L152.0,466.4 L153.0,465.0 L154.0,463.6 L155.0,462.2 L156.0,460.8 L157.0,459.3 L158.0,457.7 L159.0,456.2 L160.0,454.5 L161.0,452.9 L162.0,451.2 L163.0,449.4 L164.0,447.7 L165.0,445.9 L166.0,444.1 L167.0,442.2 L168.0,440.4 L169.0,438.5 L170.0,436.6 L171.0,434.8 L172.0,432.9 L173.0,431.0 L174.0,429.1 L175.0,427.3 L176.0,425.4 L177.0,423.6 L178.0,421.8 L179.0,420.0 L180.0,418.2 L181.0,416.5 L182.0,414.8 L183.0,413.1 L184.0,411.4 L185.0,409.8 L186.0,408.1 L187.0,406.5 L188.0,404.9 L189.0,403.3 L190.0,401.6 L191.0,400.0 L192.0,398.2 L193.0,396.2 L194.0,393.9 L195.0,391.2 L196.0,388.3 L197.0,385.0 L198.0,381.7 L199.0,378.3 L200.0,375.0 L201.0,371.8 L202.0,368.8 L203.0,365.9 L204.0,363.2 L205.0,360.6 L206.0,358.1 L207.0,355.7 L208.0,353.4 L209.0,351.1 L210.0,349.0 L211.0,346.9 L212.0,344.8 L213.0,342.7 L214.0,340.7 L215.0,338.6 L216.0,336.5 L217.0,334.4 L218.0,332.3 L219.0,330.1 L220.0,328.0 L221.0,325.9 L222.0,323.8 L223.0,321.7 L224.0,319.7 L225.0,317.7 L226.0,315.8 L227.0,314.0 L228.0,312.2 L229.0,310.4 L230.0,308.8 L231.0,307.2 L232.0,305.7 L233.0,304.3 L234.0,303.0 L235.0,301.8 L236.0,300.8 L237.0,299.8 L238.0,298.9 L239.0,298.2 L240.0,297.6 L241.0,297.1 L242.0,296.7 L243.0,296.4 L244.0,296.0 L245.0,295.6 L246.0,295.1 L247.0,294.5 L248.0,293.9 L249.0,293.2 L250.0,292.6 L251.0,291.9 L252.0,291.3 L253.0,290.7 L254.0,290.2 L255.0,289.8 L256.0,289.4 L257.0,289.3 L258.0,289.2 L259.0,289.3 L260.0,289.5 L261.0,289.8 L262.0,290.3 L263.0,290.8 L264.0,291.4 L265.0,292.1 L266.0,292.9 L267.0,293.7 L268.0,294.6 L269.0,295.6 L270.0,296.6 L271.0,297.6 L272.0,298.6 L273.0,299.7 L274.0,300.8 L275.0,301.9 L276.0,303.1 L277.0,304.3 L278.0,305.5 L279.0,306.8 L280.0,308.1 L281.0,309.4 L282.0,310.7 L283.0,312.1 L284.0,313.5 L285.0,314.9 L286.0,316.4 L287.0,317.8 L288.0,319.3 L289.0,320.9 L290.0,322.4 L291.0,323.9 L292.0,325.5 L293.0,327.1 L294.0,328.7 L295.0,330.3 L296.0,332.0 L297.0,333.6 L298.0,335.3 L299.0,337.0 L300.0,338.6 L301.0,340.3 L302.0,342.0 L303.0,343.7 L304.0,345.4 L305.0,347.1 L306.0,348.8 L307.0,350.5 L308.0,352.3 L309.0,354.0 L310.0,355.7 L311.0,357.4 L312.0,359.1 L313.0,360.8 L314.0,362.5 L315.0,364.2 L316.0,365.9 L317.0,367.5 L318.0,369.2 L319.0,370.8 L320.0,372.5 L321.0,374.1 L322.0,375.7 L323.0,377.3 L324.0,378.9 L325.0,380.4 L326.0,382.0 L327.0,383.5 L328.0,385.0 L329.0,386.5 L330.0,388.0 L331.0,389.4 L332.0,390.8 L333.0,392.3 L334.0,393.7 L335.0,395.1 L336.0,396.4 L337.0,397.8 L338.0,399.1 L339.0,400.4 L340.0,401.7 L341.0,403.0 L342.0,404.3 L343.0,405.5 L344.0,406.7 L345.0,407.9 L346.0,409.1 L347.0,410.3 L348.0,411.4 L349.0,412.6 L350.0,413.7 L351.0,414.8 L352.0,415.8 L353.0,416.9 L354.0,417.9 L355.0,418.9 L356.0,419.9 L357.0,420.9 L358.0,421.9 L359.0,422.8 L360.0,423.7 L361.0,424.6 L362.0,425.5 L363.0,426.3 L364.0,427.2 L365.0,428.0 L366.0,428.8 L367.0,429.6 L368.0,430.3 L369.0,431.0 L370.0,431.8 L371.0,432.5 L372.0,433.1 L373.0,433.8 L374.0,434.5 L375.0,435.1 L376.0,435.7 L377.0,436.3 L378.0,436.9 L379.0,437.5 L380.0,438.1 L381.0,438.6 L382.0,439.2 L383.0,439.7 L384.0,440.2 L385.0,440.7 L386.0,441.3 L387.0,441.8 L388.0,442.2 L389.0,442.7 L390.0,443.2 L391.0,443.7 L392.0,444.1 L393.0,444.6 L394.0,445.0 L395.0,445.4 L396.0,445.9 L397.0,446.3 L398.0,446.7 L399.0,447.1 L400.0,447.4 L401.0,447.8 L402.0,448.2 L403.0,448.5 L404.0,448.9 L405.0,449.2 L406.0,449.5 L407.0,449.8 L408.0,450.2 L409.0,450.5 L410.0,450.8 L411.0,451.0 L412.0,451.3 L413.0,451.6 L414.0,451.9 L415.0,452.1 L416.0,452.4 L417.0,452.6 L418.0,452.8 L419.0,453.1 L420.0,453.3 L421.0,453.5 L422.0,453.7 L423.0,453.9 L424.0,454.1 L425.0,454.3 L426.0,454.5 L427.0,454.7 L428.0,454.9 L429.0,455.1 L430.0,455.2 L431.0,455.4 L432.0,455.6 L433.0,455.7 L434.0,455.9 L435.0,456.0 L436.0,456.2 L437.0,456.3 L438.0,456.4 L439.0,456.6 L440.0,456.7 L441.0,456.8 L442.0,457.0 L443.0,457.1 L444.0,457.2 L445.0,457.3 L446.0,457.5 L447.0,457.6 L448.0,457.7 L449.0,457.8 L450.0,457.9 L451.0,458.0 L452.0,458.2 L453.0,458.3 L454.0,458.4 L455.0,458.5 L456.0,458.6 L457.0,458.7 L458.0,458.8 L459.0,458.9 L460.0,459.0 L461.0,459.1 L462.0,459.3 L463.0,459.4 L464.0,459.5 L465.0,459.6 L466.0,459.7 L467.0,459.8 L468.0,459.9 L469.0,460.1 L470.0,460.2 L471.0,460.3 L472.0,460.4 L473.0,460.6 L474.0,460.7 L475.0,460.8 L476.0,461.0 L477.0,461.1 L478.0,461.3 L479.0,461.4 L480.0,461.5 L481.0,461.7 L482.0,461.8 L483.0,462.0 L484.0,462.1 L485.0,462.3 L486.0,462.4 L487.0,462.6 L488.0,462.7 L489.0,462.9 L490.0,463.0 L491.0,463.1 L492.0,463.3 L493.0,463.4 L494.0,463.5 L495.0,463.7 L496.0,463.8 L497.0,463.9 L498.0,464.0 L499.0,464.1 L500.0,464.2 L501.0,464.4 L502.0,464.4 L503.0,464.5 L504.0,464.6 L505.0,464.7 L506.0,464.8 L507.0,464.9 L508.0,464.9 L509.0,465.0 L510.0,465.0 L511.0,465.1 L512.0,465.1 L513.0,465.1 L514.0,465.2 L515.0,465.2 L516.0,465.2 L517.0,465.2 L518.0,465.1 L519.0,465.1 L520.0,465.1 L521.0,465.0 L522.0,465.0 L523.0,464.9 L524.0,464.8 L525.0,464.7 L526.0,464.6 L527.0,464.5 L528.0,464.4 L529.0,464.2 L530.0,464.1 L531.0,463.9 L532.0,463.7 L533.0,463.6 L534.0,463.4 L535.0,463.1 L536.0,462.9 L537.0,462.7 L538.0,462.5 L539.0,462.2 L540.0,462.0 L541.0,461.7 L542.0,461.5 L543.0,461.2 L544.0,460.9 L545.0,460.6 L546.0,460.4 L547.0,460.1 L548.0,459.8 L549.0,459.5 L550.0,459.3 L551.0,459.0 L552.0,458.7 L553.0,458.5 L554.0,458.2 L555.0,457.9 L556.0,457.7 L557.0,457.4 L558.0,457.2 L559.0,456.9 L560.0,456.7 L561.0,456.5 L562.0,456.3 L563.0,456.1 L564.0,455.9 L565.0,455.7 L566.0,455.5 L567.0,455.3 L568.0,455.2 L569.0,455.0 L570.0,454.9 L571.0,454.7 L572.0,454.6 L573.0,454.4 L574.0,454.3 L575.0,454.1 L576.0,454.0 L577.0,453.9 L578.0,453.7 L579.0,453.6 L580.0,453.5 L581.0,453.3 L582.0,453.2 L583.0,453.1 L584.0,453.0 L585.0,452.8 L586.0,452.7 L587.0,452.6 L588.0,452.4 L589.0,452.3 L590.0,452.1 L591.0,452.0 L592.0,451.8 L593.0,451.7 L594.0,451.5 L595.0,451.3 L596.0,451.2 L597.0,451.0 L598.0,450.8 L599.0,450.6 L600.0,450.3 L601.0,450.1 L602.0,449.9 L603.0,449.6 L604.0,449.4 L605.0,449.1 L606.0,448.8 L607.0,448.6 L608.0,448.3 L609.0,448.0 L610.0,447.6 L611.0,447.3 L612.0,447.0 L613.0,446.6 L614.0,446.3 L615.0,445.9 L616.0,445.5 L617.0,445.1 L618.0,444.7 L619.0,444.3 L620.0,443.9 L621.0,443.5 L622.0,443.0 L623.0,442.6 L624.0,442.1 L625.0,441.6 L626.0,441.1 L627.0,440.6 L628.0,440.1 L629.0,439.5 L630.0,439.0 L631.0,438.4 L632.0,437.9 L633.0,437.3 L634.0,436.7 L635.0,436.1 L636.0,435.4 L637.0,434.8 L638.0,434.2 L639.0,433.5 L640.0,432.8 L641.0,432.1 L642.0,431.4 L643.0,430.7 L644.0,430.0 L645.0,429.2 L646.0,428.5 L647.0,427.7 L648.0,426.9 L649.0,426.1 L650.0,425.3 L651.0,424.4 L652.0,423.6 L653.0,422.7 L654.0,421.8 L655.0,420.9 L656.0,420.0 L657.0,419.1 L658.0,418.1 L659.0,417.2 L660.0,416.2 L661.0,415.2 L662.0,414.2 L663.0,413.2 L664.0,412.1 L665.0,411.1 L666.0,410.0 L667.0,408.9 L668.0,407.8 L669.0,406.6 L670.0,405.4 L671.0,404.1 L672.0,402.9 L673.0,401.5 L674.0,400.1 L675.0,398.6 L676.0,397.1 L677.0,395.6 L678.0,394.0 L679.0,392.3 L680.0,390.7 L681.0,389.0 L682.0,387.3 L683.0,385.6 L684.0,383.9 L685.0,382.1 L686.0,380.4 L687.0,378.7 L688.0,377.0 L689.0,375.5 L690.0,374.0 L691.0,372.8 L692.0,371.6 L693.0,370.6 L694.0,369.6 L695.0,368.6 L696.0,367.6 L697.0,366.6 L698.0,365.5 L699.0,364.3 L700.0,363.1 L701.0,361.9 L702.0,360.6 L703.0,359.3 L704.0,358.0 L705.0,356.8 L706.0,355.5 L707.0,354.3 L708.0,353.1 L709.0,351.9 L710.0,350.7 L711.0,349.5 L712.0,348.4 L713.0,347.3 L714.0,346.2 L715.0,345.2 L716.0,344.2 L717.0,343.2 L718.0,342.2 L719.0,341.3 L720.0,340.4 L721.0,339.6 L722.0,338.8 L723.0,338.0 L724.0,337.3 L725.0,336.6 L726.0,335.9 L727.0,335.3 L728.0,334.7 L729.0,334.2 L730.0,333.7 L731.0,333.3 L732.0,332.9 L733.0,332.6 L734.0,332.3 L735.0,332.1 L736.0,331.9 L737.0,331.7 L738.0,331.5 L739.0,331.4 L740.0,331.3 L741.0,331.2 L742.0,331.2 L743.0,331.1 L744.0,331.1 L745.0,331.1 L746.0,331.1 L747.0,331.0 L748.0,331.0 L749.0,331.0 L750.0,331.0 L751.0,331.0 L752.0,331.0 L753.0,331.0 L754.0,331.0 L755.0,331.0 L756.0,331.1 L757.0,331.2 L758.0,331.3 L759.0,331.5 L760.0,331.7 L761.0,331.9 L762.0,332.2 L763.0,332.6 L764.0,333.0 L765.0,333.5 L766.0,334.0 L767.0,334.6 L768.0,335.2 L769.0,335.9 L770.0,336.5 L771.0,337.2 L772.0,337.9 L773.0,338.6 L774.0,339.3 L775.0,340.0 L776.0,340.7 L777.0,341.4 L778.0,342.1 L779.0,342.9 L780.0,343.6 L781.0,344.3 L782.0,345.1 L783.0,345.9 L784.0,346.6 L785.0,347.4 L786.0,348.2 L787.0,349.0 L788.0,349.9 L789.0,350.7 L790.0,351.6 L791.0,352.4 L792.0,353.3 L793.0,354.2 L794.0,355.1 L795.0,356.0 L796.0,356.9 L797.0,357.9 L798.0,358.9 L799.0,359.9 L800.0,360.9 L801.0,361.9 L802.0,362.9 L803.0,364.0 L804.0,365.1 L805.0,366.1 L806.0,367.3 L807.0,368.4 L808.0,369.6 L809.0,370.8 L810.0,372.0 L811.0,373.2 L812.0,374.5 L813.0,375.8 L814.0,377.1 L815.0,378.5 L816.0,379.9 L817.0,381.3 L818.0,382.8 L819.0,384.3 L820.0,385.9 L821.0,387.5 L822.0,389.1 L823.0,390.8 L824.0,392.5 L825.0,394.3 L826.0,396.2 L827.0,398.1 L828.0,400.0 L829.0,402.0 L830.0,404.0 L831.0,406.0 L832.0,408.1 L833.0,410.1 L834.0,412.0 L835.0,414.0 L836.0,415.9 L837.0,417.7 L838.0,419.5 L839.0,421.2 L840.0,422.8 L841.0,424.4 L842.0,426.0 L843.0,427.5 L844.0,428.9 L845.0,430.4 L846.0,431.8 L847.0,433.2 L848.0,434.6 L849.0,436.1 L850.0,437.5 L851.0,439.0 L852.0,440.5 L853.0,442.0 L854.0,443.5 L855.0,445.0 L856.0,446.6 L857.0,448.1 L858.0,449.6 L859.0,451.1 L860.0,452.6 L861.0,454.1 L862.0,455.5 L863.0,457.0 L864.0,458.4 L865.0,459.8 L866.0,461.1 L867.0,462.4 L868.0,463.7 L869.0,465.0 L870.0,466.2 L871.0,467.4 L872.0,468.5 L873.0,469.6 L874.0,470.7 L875.0,471.7 L876.0,472.7 L877.0,473.6 L878.0,474.5 L879.0,475.4 L880.0,476.2 L881.0,476.9 L882.0,477.6 L883.0,478.3 L884.0,478.9 L885.0,479.5 L886.0,480.1 L887.0,480.6 L888.0,481.1 L889.0,481.5 L890.0,482.0 L891.0,482.4 L892.0,482.7 L893.0,483.1 L894.0,483.4 L895.0,483.7 L896.0,484.0 L897.0,484.3 L898.0,484.6 L899.0,484.8 L900.0,485.1 L901.0,485.3 L902.0,485.6 L903.0,485.8 L904.0,486.1 L905.0,486.3 L906.0,486.6 L907.0,486.8 L908.0,487.1 L909.0,487.3 L910.0,487.6 L911.0,487.8 L912.0,488.1 L913.0,488.3 L914.0,488.6 L915.0,488.9 L916.0,489.1 L917.0,489.4 L918.0,489.6 L919.0,489.9 L920.0,490.1 L921.0,490.3 L922.0,490.5 L923.0,490.8 L924.0,491.0 L925.0,491.2 L926.0,491.4 L927.0,491.6 L928.0,491.8 L929.0,491.9 L930.0,492.1 L931.0,492.2 L932.0,492.4 L933.0,492.5 L934.0,492.6 L935.0,492.7 L936.0,492.8 L937.0,492.8 L938.0,492.9 L939.0,492.9 L940.0,493.0 L941.6,493.0 L941.6,496.6 L73.0,496.6 Z"/>
</g>
<path fill="none" stroke="#5a808d" stroke-width="2.6" stroke-linejoin="round" d="M73.0,495.5 L74.0,495.4 L75.0,495.4 L76.0,495.4 L77.0,495.4 L78.0,495.4 L79.0,495.4 L80.0,495.4 L81.0,495.4 L82.0,495.4 L83.0,495.4 L84.0,495.4 L85.0,495.4 L86.0,495.4 L87.0,495.4 L88.0,495.3 L89.0,495.3 L90.0,495.2 L91.0,495.2 L92.0,495.1 L93.0,495.0 L94.0,495.0 L95.0,494.9 L96.0,494.7 L97.0,494.6 L98.0,494.5 L99.0,494.3 L100.0,494.1 L101.0,493.9 L102.0,493.7 L103.0,493.5 L104.0,493.3 L105.0,493.0 L106.0,492.7 L107.0,492.4 L108.0,492.0 L109.0,491.7 L110.0,491.3 L111.0,490.9 L112.0,490.4 L113.0,489.9 L114.0,489.4 L115.0,488.9 L116.0,488.4 L117.0,487.8 L118.0,487.1 L119.0,486.5 L120.0,485.8 L121.0,485.1 L122.0,484.3 L123.0,483.5 L124.0,482.7 L125.0,481.8 L126.0,480.9 L127.0,479.9 L128.0,479.0 L129.0,477.9 L130.0,476.9 L131.0,475.7 L132.0,474.6 L133.0,473.4 L134.0,472.1 L135.0,470.8 L136.0,469.5 L137.0,468.1 L138.0,466.7 L139.0,465.2 L140.0,463.6 L141.0,462.0 L142.0,460.4 L143.0,458.7 L144.0,457.0 L145.0,455.2 L146.0,453.4 L147.0,451.5 L148.0,449.5 L149.0,447.5 L150.0,445.5 L151.0,443.4 L152.0,441.2 L153.0,439.0 L154.0,436.7 L155.0,434.4 L156.0,432.0 L157.0,429.6 L158.0,427.2 L159.0,424.7 L160.0,422.2 L161.0,419.6 L162.0,417.1 L163.0,414.4 L164.0,411.8 L165.0,409.1 L166.0,406.4 L167.0,403.7 L168.0,401.0 L169.0,398.2 L170.0,395.4 L171.0,392.6 L172.0,389.8 L173.0,387.0 L174.0,384.2 L175.0,381.3 L176.0,378.5 L177.0,375.7 L178.0,372.8 L179.0,370.0 L180.0,367.1 L181.0,364.3 L182.0,361.4 L183.0,358.6 L184.0,355.7 L185.0,352.9 L186.0,350.1 L187.0,347.3 L188.0,344.5 L189.0,341.7 L190.0,338.9 L191.0,336.2 L192.0,333.5 L193.0,330.8 L194.0,328.1 L195.0,325.4 L196.0,322.7 L197.0,320.1 L198.0,317.5 L199.0,314.9 L200.0,312.3 L201.0,309.7 L202.0,307.1 L203.0,304.6 L204.0,302.0 L205.0,299.5 L206.0,297.0 L207.0,294.5 L208.0,292.0 L209.0,289.5 L210.0,287.1 L211.0,284.6 L212.0,282.2 L213.0,279.8 L214.0,277.4 L215.0,275.0 L216.0,272.6 L217.0,270.3 L218.0,268.0 L219.0,265.7 L220.0,263.4 L221.0,261.2 L222.0,259.0 L223.0,256.8 L224.0,254.6 L225.0,252.5 L226.0,250.4 L227.0,248.3 L228.0,246.2 L229.0,244.2 L230.0,242.3 L231.0,240.3 L232.0,238.4 L233.0,236.5 L234.0,234.7 L235.0,232.9 L236.0,231.2 L237.0,229.4 L238.0,227.8 L239.0,226.1 L240.0,224.6 L241.0,223.0 L242.0,221.5 L243.0,220.1 L244.0,218.7 L245.0,217.3 L246.0,216.0 L247.0,214.8 L248.0,213.6 L249.0,212.4 L250.0,211.3 L251.0,210.3 L252.0,209.3 L253.0,208.4 L254.0,207.5 L255.0,206.7 L256.0,205.9 L257.0,205.2 L258.0,204.6 L259.0,204.0 L260.0,203.5 L261.0,203.1 L262.0,202.7 L263.0,202.4 L264.0,202.1 L265.0,201.9 L266.0,201.8 L267.0,201.8 L268.0,201.8 L269.0,201.9 L270.0,202.0 L271.0,202.2 L272.0,202.5 L273.0,202.9 L274.0,203.3 L275.0,203.8 L276.0,204.3 L277.0,205.0 L278.0,205.7 L279.0,206.5 L280.0,207.3 L281.0,208.2 L282.0,209.2 L283.0,210.3 L284.0,211.5 L285.0,212.7 L286.0,214.0 L287.0,215.4 L288.0,216.8 L289.0,218.4 L290.0,220.0 L291.0,221.7 L292.0,223.4 L293.0,225.3 L294.0,227.2 L295.0,229.2 L296.0,231.3 L297.0,233.5 L298.0,235.7 L299.0,238.0 L300.0,240.4 L301.0,242.9 L302.0,245.5 L303.0,248.1 L304.0,250.8 L305.0,253.5 L306.0,256.3 L307.0,259.1 L308.0,262.0 L309.0,264.9 L310.0,267.8 L311.0,270.7 L312.0,273.7 L313.0,276.7 L314.0,279.7 L315.0,282.6 L316.0,285.6 L317.0,288.6 L318.0,291.5 L319.0,294.5 L320.0,297.4 L321.0,300.3 L322.0,303.2 L323.0,306.0 L324.0,308.8 L325.0,311.6 L326.0,314.3 L327.0,317.1 L328.0,319.8 L329.0,322.4 L330.0,325.1 L331.0,327.7 L332.0,330.3 L333.0,332.8 L334.0,335.3 L335.0,337.8 L336.0,340.3 L337.0,342.7 L338.0,345.1 L339.0,347.5 L340.0,349.8 L341.0,352.1 L342.0,354.3 L343.0,356.5 L344.0,358.7 L345.0,360.9 L346.0,363.0 L347.0,365.0 L348.0,367.1 L349.0,369.1 L350.0,371.0 L351.0,372.9 L352.0,374.8 L353.0,376.7 L354.0,378.5 L355.0,380.2 L356.0,381.9 L357.0,383.6 L358.0,385.3 L359.0,386.9 L360.0,388.4 L361.0,390.0 L362.0,391.4 L363.0,392.9 L364.0,394.3 L365.0,395.7 L366.0,397.1 L367.0,398.4 L368.0,399.7 L369.0,400.9 L370.0,402.2 L371.0,403.4 L372.0,404.5 L373.0,405.7 L374.0,406.8 L375.0,407.8 L376.0,408.9 L377.0,409.9 L378.0,410.9 L379.0,411.9 L380.0,412.8 L381.0,413.7 L382.0,414.6 L383.0,415.5 L384.0,416.3 L385.0,417.1 L386.0,417.9 L387.0,418.7 L388.0,419.5 L389.0,420.2 L390.0,420.9 L391.0,421.6 L392.0,422.3 L393.0,422.9 L394.0,423.5 L395.0,424.2 L396.0,424.7 L397.0,425.3 L398.0,425.9 L399.0,426.4 L400.0,427.0 L401.0,427.5 L402.0,428.0 L403.0,428.5 L404.0,429.0 L405.0,429.4 L406.0,429.9 L407.0,430.3 L408.0,430.8 L409.0,431.2 L410.0,431.6 L411.0,432.0 L412.0,432.4 L413.0,432.8 L414.0,433.1 L415.0,433.5 L416.0,433.9 L417.0,434.2 L418.0,434.6 L419.0,434.9 L420.0,435.3 L421.0,435.6 L422.0,436.0 L423.0,436.3 L424.0,436.6 L425.0,437.0 L426.0,437.3 L427.0,437.6 L428.0,437.9 L429.0,438.2 L430.0,438.6 L431.0,438.9 L432.0,439.2 L433.0,439.5 L434.0,439.8 L435.0,440.1 L436.0,440.4 L437.0,440.7 L438.0,441.0 L439.0,441.3 L440.0,441.6 L441.0,441.9 L442.0,442.2 L443.0,442.5 L444.0,442.7 L445.0,443.0 L446.0,443.3 L447.0,443.6 L448.0,443.8 L449.0,444.1 L450.0,444.4 L451.0,444.6 L452.0,444.9 L453.0,445.1 L454.0,445.3 L455.0,445.6 L456.0,445.8 L457.0,446.1 L458.0,446.3 L459.0,446.5 L460.0,446.7 L461.0,446.9 L462.0,447.2 L463.0,447.4 L464.0,447.6 L465.0,447.8 L466.0,448.0 L467.0,448.1 L468.0,448.3 L469.0,448.5 L470.0,448.7 L471.0,448.9 L472.0,449.0 L473.0,449.2 L474.0,449.3 L475.0,449.5 L476.0,449.6 L477.0,449.8 L478.0,449.9 L479.0,450.0 L480.0,450.2 L481.0,450.3 L482.0,450.4 L483.0,450.5 L484.0,450.6 L485.0,450.7 L486.0,450.8 L487.0,450.9 L488.0,451.0 L489.0,451.0 L490.0,451.1 L491.0,451.2 L492.0,451.2 L493.0,451.3 L494.0,451.3 L495.0,451.4 L496.0,451.4 L497.0,451.4 L498.0,451.4 L499.0,451.5 L500.0,451.5 L501.0,451.5 L502.0,451.5 L503.0,451.5 L504.0,451.4 L505.0,451.4 L506.0,451.4 L507.0,451.4 L508.0,451.3 L509.0,451.3 L510.0,451.2 L511.0,451.2 L512.0,451.1 L513.0,451.1 L514.0,451.0 L515.0,450.9 L516.0,450.8 L517.0,450.8 L518.0,450.7 L519.0,450.6 L520.0,450.5 L521.0,450.4 L522.0,450.3 L523.0,450.1 L524.0,450.0 L525.0,449.9 L526.0,449.8 L527.0,449.6 L528.0,449.5 L529.0,449.3 L530.0,449.2 L531.0,449.0 L532.0,448.9 L533.0,448.7 L534.0,448.5 L535.0,448.4 L536.0,448.2 L537.0,448.0 L538.0,447.8 L539.0,447.6 L540.0,447.4 L541.0,447.2 L542.0,447.0 L543.0,446.8 L544.0,446.6 L545.0,446.3 L546.0,446.1 L547.0,445.9 L548.0,445.6 L549.0,445.4 L550.0,445.2 L551.0,444.9 L552.0,444.6 L553.0,444.4 L554.0,444.1 L555.0,443.9 L556.0,443.6 L557.0,443.3 L558.0,443.0 L559.0,442.7 L560.0,442.5 L561.0,442.2 L562.0,441.9 L563.0,441.6 L564.0,441.3 L565.0,440.9 L566.0,440.6 L567.0,440.3 L568.0,440.0 L569.0,439.7 L570.0,439.3 L571.0,439.0 L572.0,438.7 L573.0,438.3 L574.0,438.0 L575.0,437.6 L576.0,437.3 L577.0,436.9 L578.0,436.6 L579.0,436.2 L580.0,435.8 L581.0,435.5 L582.0,435.1 L583.0,434.7 L584.0,434.3 L585.0,433.9 L586.0,433.6 L587.0,433.2 L588.0,432.8 L589.0,432.4 L590.0,431.9 L591.0,431.5 L592.0,431.1 L593.0,430.7 L594.0,430.3 L595.0,429.8 L596.0,429.4 L597.0,428.9 L598.0,428.5 L599.0,428.0 L600.0,427.6 L601.0,427.1 L602.0,426.6 L603.0,426.1 L604.0,425.6 L605.0,425.1 L606.0,424.6 L607.0,424.1 L608.0,423.6 L609.0,423.0 L610.0,422.5 L611.0,421.9 L612.0,421.4 L613.0,420.8 L614.0,420.2 L615.0,419.6 L616.0,419.0 L617.0,418.4 L618.0,417.8 L619.0,417.2 L620.0,416.5 L621.0,415.9 L622.0,415.2 L623.0,414.6 L624.0,413.9 L625.0,413.2 L626.0,412.5 L627.0,411.7 L628.0,411.0 L629.0,410.3 L630.0,409.5 L631.0,408.7 L632.0,408.0 L633.0,407.2 L634.0,406.4 L635.0,405.5 L636.0,404.7 L637.0,403.9 L638.0,403.0 L639.0,402.1 L640.0,401.2 L641.0,400.3 L642.0,399.4 L643.0,398.5 L644.0,397.5 L645.0,396.6 L646.0,395.6 L647.0,394.6 L648.0,393.6 L649.0,392.6 L650.0,391.5 L651.0,390.5 L652.0,389.4 L653.0,388.3 L654.0,387.2 L655.0,386.1 L656.0,384.9 L657.0,383.8 L658.0,382.6 L659.0,381.4 L660.0,380.2 L661.0,379.0 L662.0,377.7 L663.0,376.5 L664.0,375.2 L665.0,373.9 L666.0,372.6 L667.0,371.2 L668.0,369.9 L669.0,368.5 L670.0,367.1 L671.0,365.7 L672.0,364.3 L673.0,362.9 L674.0,361.4 L675.0,359.9 L676.0,358.4 L677.0,356.9 L678.0,355.4 L679.0,353.8 L680.0,352.2 L681.0,350.6 L682.0,349.0 L683.0,347.4 L684.0,345.7 L685.0,344.0 L686.0,342.3 L687.0,340.6 L688.0,338.9 L689.0,337.1 L690.0,335.3 L691.0,333.5 L692.0,331.7 L693.0,329.8 L694.0,328.0 L695.0,326.1 L696.0,324.2 L697.0,322.2 L698.0,320.3 L699.0,318.3 L700.0,316.3 L701.0,314.3 L702.0,312.2 L703.0,310.2 L704.0,308.1 L705.0,306.0 L706.0,303.9 L707.0,301.8 L708.0,299.7 L709.0,297.6 L710.0,295.4 L711.0,293.3 L712.0,291.3 L713.0,289.2 L714.0,287.1 L715.0,285.1 L716.0,283.1 L717.0,281.1 L718.0,279.1 L719.0,277.2 L720.0,275.3 L721.0,273.4 L722.0,271.6 L723.0,269.8 L724.0,268.1 L725.0,266.4 L726.0,264.8 L727.0,263.2 L728.0,261.7 L729.0,260.2 L730.0,258.8 L731.0,257.4 L732.0,256.1 L733.0,254.8 L734.0,253.6 L735.0,252.5 L736.0,251.4 L737.0,250.4 L738.0,249.5 L739.0,248.6 L740.0,247.8 L741.0,247.0 L742.0,246.3 L743.0,245.7 L744.0,245.2 L745.0,244.7 L746.0,244.3 L747.0,244.0 L748.0,243.8 L749.0,243.7 L750.0,243.6 L751.0,243.6 L752.0,243.6 L753.0,243.8 L754.0,244.0 L755.0,244.2 L756.0,244.6 L757.0,245.0 L758.0,245.4 L759.0,246.0 L760.0,246.5 L761.0,247.2 L762.0,247.9 L763.0,248.7 L764.0,249.5 L765.0,250.4 L766.0,251.3 L767.0,252.3 L768.0,253.3 L769.0,254.4 L770.0,255.6 L771.0,256.7 L772.0,258.0 L773.0,259.2 L774.0,260.6 L775.0,261.9 L776.0,263.3 L777.0,264.8 L778.0,266.3 L779.0,267.8 L780.0,269.3 L781.0,270.9 L782.0,272.6 L783.0,274.2 L784.0,275.9 L785.0,277.6 L786.0,279.4 L787.0,281.1 L788.0,283.0 L789.0,284.8 L790.0,286.6 L791.0,288.5 L792.0,290.4 L793.0,292.3 L794.0,294.3 L795.0,296.2 L796.0,298.2 L797.0,300.2 L798.0,302.2 L799.0,304.2 L800.0,306.2 L801.0,308.2 L802.0,310.3 L803.0,312.3 L804.0,314.4 L805.0,316.4 L806.0,318.5 L807.0,320.6 L808.0,322.6 L809.0,324.7 L810.0,326.8 L811.0,328.9 L812.0,331.0 L813.0,333.0 L814.0,335.1 L815.0,337.2 L816.0,339.3 L817.0,341.4 L818.0,343.5 L819.0,345.5 L820.0,347.6 L821.0,349.7 L822.0,351.8 L823.0,353.9 L824.0,355.9 L825.0,358.0 L826.0,360.1 L827.0,362.1 L828.0,364.2 L829.0,366.2 L830.0,368.3 L831.0,370.3 L832.0,372.4 L833.0,374.4 L834.0,376.4 L835.0,378.4 L836.0,380.4 L837.0,382.4 L838.0,384.4 L839.0,386.4 L840.0,388.4 L841.0,390.4 L842.0,392.3 L843.0,394.3 L844.0,396.2 L845.0,398.1 L846.0,400.0 L847.0,401.9 L848.0,403.8 L849.0,405.7 L850.0,407.6 L851.0,409.4 L852.0,411.3 L853.0,413.1 L854.0,414.9 L855.0,416.7 L856.0,418.5 L857.0,420.2 L858.0,422.0 L859.0,423.7 L860.0,425.4 L861.0,427.1 L862.0,428.8 L863.0,430.5 L864.0,432.1 L865.0,433.8 L866.0,435.4 L867.0,437.0 L868.0,438.5 L869.0,440.1 L870.0,441.6 L871.0,443.1 L872.0,444.6 L873.0,446.1 L874.0,447.6 L875.0,449.0 L876.0,450.4 L877.0,451.8 L878.0,453.1 L879.0,454.5 L880.0,455.8 L881.0,457.1 L882.0,458.3 L883.0,459.6 L884.0,460.8 L885.0,462.0 L886.0,463.1 L887.0,464.3 L888.0,465.4 L889.0,466.5 L890.0,467.5 L891.0,468.6 L892.0,469.6 L893.0,470.5 L894.0,471.5 L895.0,472.4 L896.0,473.3 L897.0,474.1 L898.0,474.9 L899.0,475.7 L900.0,476.5 L901.0,477.2 L902.0,477.9 L903.0,478.6 L904.0,479.2 L905.0,479.8 L906.0,480.4 L907.0,481.0 L908.0,481.5 L909.0,482.0 L910.0,482.5 L911.0,483.0 L912.0,483.4 L913.0,483.8 L914.0,484.2 L915.0,484.6 L916.0,484.9 L917.0,485.3 L918.0,485.6 L919.0,485.9 L920.0,486.1 L921.0,486.4 L922.0,486.6 L923.0,486.9 L924.0,487.1 L925.0,487.3 L926.0,487.5 L927.0,487.7 L928.0,487.8 L929.0,488.0 L930.0,488.1 L931.0,488.3 L932.0,488.4 L933.0,488.5 L934.0,488.6 L935.0,488.7 L936.0,488.8 L937.0,488.9 L938.0,489.0 L939.0,489.1 L940.0,489.2 L941.6,489.3"/>
<g stroke="#000" stroke-opacity="0.4" stroke-width="1.5" stroke-dasharray="2.5 2.46"><line x1="78" y1="476.6" x2="951" y2="476.6"/><line x1="78" y1="456.6" x2="951" y2="456.6"/><line x1="78" y1="436.6" x2="951" y2="436.6"/><line x1="78" y1="416.6" x2="951" y2="416.6"/><line x1="78" y1="396.6" x2="951" y2="396.6"/><line x1="78" y1="376.6" x2="951" y2="376.6"/><line x1="78" y1="356.6" x2="951" y2="356.6"/><line x1="78" y1="336.6" x2="951" y2="336.6"/><line x1="78" y1="316.6" x2="951" y2="316.6"/><line x1="78" y1="296.6" x2="951" y2="296.6"/><line x1="78" y1="276.6" x2="951" y2="276.6"/><line x1="78" y1="256.6" x2="951" y2="256.6"/><line x1="78" y1="236.6" x2="951" y2="236.6"/><line x1="78" y1="216.6" x2="951" y2="216.6"/><line x1="78" y1="196.6" x2="951" y2="196.6"/><line x1="78" y1="176.6" x2="951" y2="176.6"/><line x1="78" y1="156.6" x2="951" y2="156.6"/><line x1="78" y1="136.6" x2="951" y2="136.6"/><line x1="78" y1="116.6" x2="951" y2="116.6"/><line x1="78" y1="96.6" x2="951" y2="96.6"/></g>
<path clip-path="url(#cp)" fill="none" stroke="#000" stroke-width="2.9" stroke-linejoin="round" stroke-linecap="round" d="M73.5,497.3 L92.6,497.3 L94.2,493.6 L95.8,497.2 L103.0,496.6 L109.0,494.9 L117.0,492.5 L123.6,490.6 L128.7,494.0 L133.9,494.5 L139.1,491.4 L144.3,492.8 L149.5,488.0 L154.7,486.2 L159.8,485.9 L165.0,480.2 L170.2,479.6 L175.4,474.1 L180.6,471.5 L185.8,466.3 L191.0,460.3 L194.4,451.7 L197.9,443.0 L203.0,437.8 L208.2,430.9 L212.6,421.6 L216.6,414.7 L221.8,413.7 L226.9,416.4 L232.8,417.5 L238.0,424.4 L243.2,421.8 L248.4,421.4 L253.6,418.8 L258.7,420.1 L263.9,424.4 L268.3,426.1 L273.4,434.7 L279.5,439.1 L284.7,441.7 L289.8,447.7 L294.2,452.0 L299.4,453.7 L304.5,455.5 L309.7,458.9 L314.9,461.5 L320.1,465.8 L325.3,467.6 L330.5,470.2 L335.6,470.2 L340.8,468.8 L345.6,471.5 L350.8,473.9 L356.0,474.0 L360.5,477.7 L365.9,475.1 L371.1,475.1 L376.3,477.1 L381.5,478.9 L386.7,477.1 L391.8,481.5 L397.0,481.5 L407.4,481.5 L411.7,482.9 L416.0,481.5 L422.9,482.9 L428.1,484.6 L433.3,482.9 L439.4,478.4 L443.7,478.9 L448.9,478.9 L454.0,477.1"/>
<g stroke="#999" stroke-width="1.2"><line x1="69.5" y1="496.6" x2="73" y2="496.6"/><line x1="69.5" y1="476.6" x2="73" y2="476.6"/><line x1="69.5" y1="456.6" x2="73" y2="456.6"/><line x1="69.5" y1="436.6" x2="73" y2="436.6"/><line x1="69.5" y1="416.6" x2="73" y2="416.6"/><line x1="69.5" y1="396.6" x2="73" y2="396.6"/><line x1="69.5" y1="376.6" x2="73" y2="376.6"/><line x1="69.5" y1="356.6" x2="73" y2="356.6"/><line x1="69.5" y1="336.6" x2="73" y2="336.6"/><line x1="69.5" y1="316.6" x2="73" y2="316.6"/><line x1="69.5" y1="296.6" x2="73" y2="296.6"/><line x1="69.5" y1="276.6" x2="73" y2="276.6"/><line x1="69.5" y1="256.6" x2="73" y2="256.6"/><line x1="69.5" y1="236.6" x2="73" y2="236.6"/><line x1="69.5" y1="216.6" x2="73" y2="216.6"/><line x1="69.5" y1="196.6" x2="73" y2="196.6"/><line x1="69.5" y1="176.6" x2="73" y2="176.6"/><line x1="69.5" y1="156.6" x2="73" y2="156.6"/><line x1="69.5" y1="136.6" x2="73" y2="136.6"/><line x1="69.5" y1="116.6" x2="73" y2="116.6"/><line x1="69.5" y1="96.6" x2="73" y2="96.6"/><line x1="78.0" y1="497" x2="78.0" y2="500"/><line x1="129.4" y1="497" x2="129.4" y2="500"/><line x1="180.8" y1="497" x2="180.8" y2="500"/><line x1="232.2" y1="497" x2="232.2" y2="500"/><line x1="283.6" y1="497" x2="283.6" y2="500"/><line x1="335.0" y1="497" x2="335.0" y2="500"/><line x1="386.4" y1="497" x2="386.4" y2="500"/><line x1="437.8" y1="497" x2="437.8" y2="500"/><line x1="489.2" y1="497" x2="489.2" y2="500"/><line x1="540.6" y1="497" x2="540.6" y2="500"/><line x1="592.0" y1="497" x2="592.0" y2="500"/><line x1="643.4" y1="497" x2="643.4" y2="500"/><line x1="694.8" y1="497" x2="694.8" y2="500"/><line x1="746.2" y1="497" x2="746.2" y2="500"/><line x1="797.6" y1="497" x2="797.6" y2="500"/><line x1="849.0" y1="497" x2="849.0" y2="500"/><line x1="900.4" y1="497" x2="900.4" y2="500"/></g>
<rect x="72" y="86" width="1.9" height="411.5" fill="#4a4a4a"/>
<rect x="72" y="495.7" width="879.6" height="1.6" fill="#1e1e1e"/>
<g class="yl"><text x="65.2" y="502.4">0</text><text x="65.2" y="482.4">25</text><text x="65.2" y="462.4">50</text><text x="65.2" y="442.4">75</text><text x="65.2" y="422.4">100</text><text x="65.2" y="402.4">125</text><text x="65.2" y="382.4">150</text><text x="65.2" y="362.4">175</text><text x="65.2" y="342.4">200</text><text x="65.2" y="322.4">225</text><text x="65.2" y="302.4">250</text><text x="65.2" y="282.4">275</text><text x="65.2" y="262.4">300</text><text x="65.2" y="242.4">325</text><text x="65.2" y="222.4">350</text><text x="65.2" y="202.4">375</text><text x="65.2" y="182.4">400</text><text x="65.2" y="162.4">425</text><text x="65.2" y="142.4">450</text><text x="65.2" y="122.4">475</text><text x="65.2" y="102.4">500</text></g>
<g class="xl"><text x="78.6" y="515">05h</text><text x="130.0" y="515">06h</text><text x="181.4" y="515">07h</text><text x="232.8" y="515">08h</text><text x="284.2" y="515">09h</text><text x="335.6" y="515">10h</text><text x="387.0" y="515">11h</text><text x="438.4" y="515">12h</text><text x="489.8" y="515">13h</text><text x="541.2" y="515">14h</text><text x="592.6" y="515">15h</text><text x="644.0" y="515">16h</text><text x="695.4" y="515">17h</text><text x="746.8" y="515">18h</text><text x="798.2" y="515">19h</text><text x="849.6" y="515">20h</text><text x="901.0" y="515">21h</text></g>
<text class="ax" transform="translate(487.8,534.5) scale(1.07,1)">Heure</text>
<text class="ay" transform="translate(31.8,398.5) rotate(-90)" style="white-space:pre" xml:space="preserve">Valeur du  km de bouchon</text>
<rect x="171" y="548" width="622" height="2" fill="#3a3a3a"/>
</svg>
</body></html>
